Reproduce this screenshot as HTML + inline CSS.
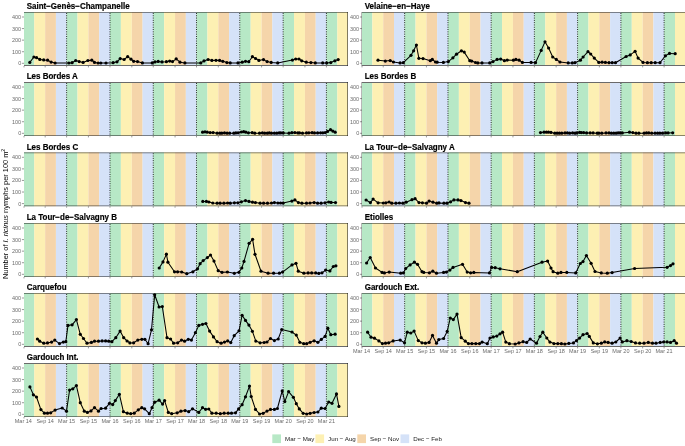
<!DOCTYPE html>
<html><head><meta charset="utf-8"><style>
html,body{margin:0;padding:0;background:#fff;width:685px;height:446px;overflow:hidden}
svg{display:block;will-change:transform}
text{font-family:"Liberation Sans",sans-serif}
.t{font-weight:bold;font-size:8px;fill:#000;stroke:#000;stroke-width:0.18}
.yl{font-size:5.5px;fill:#6b6b6b;text-anchor:end}
.xl{font-size:5.5px;fill:#6b6b6b;text-anchor:middle}
.lg{font-size:6.2px;fill:#1a1a1a}
</style></head><body>
<svg width="685" height="446" viewBox="0 0 685 446">
<g><rect x="24" y="12" width="10.25" height="53" fill="#b7e8c6"/><rect x="34.25" y="12" width="10.9" height="53" fill="#fdf0b3"/><rect x="45.16" y="12" width="10.79" height="53" fill="#f5d5aa"/><rect x="55.94" y="12" width="10.67" height="53" fill="#d5e2f8"/><rect x="66.61" y="12" width="10.9" height="53" fill="#b7e8c6"/><rect x="77.51" y="12" width="10.9" height="53" fill="#fdf0b3"/><rect x="88.42" y="12" width="10.79" height="53" fill="#f5d5aa"/><rect x="99.2" y="12" width="10.79" height="53" fill="#d5e2f8"/><rect x="109.99" y="12" width="10.9" height="53" fill="#b7e8c6"/><rect x="120.89" y="12" width="10.9" height="53" fill="#fdf0b3"/><rect x="131.8" y="12" width="10.79" height="53" fill="#f5d5aa"/><rect x="142.58" y="12" width="10.67" height="53" fill="#d5e2f8"/><rect x="153.25" y="12" width="10.9" height="53" fill="#b7e8c6"/><rect x="164.15" y="12" width="10.9" height="53" fill="#fdf0b3"/><rect x="175.06" y="12" width="10.79" height="53" fill="#f5d5aa"/><rect x="185.84" y="12" width="10.67" height="53" fill="#d5e2f8"/><rect x="196.51" y="12" width="10.9" height="53" fill="#b7e8c6"/><rect x="207.41" y="12" width="10.9" height="53" fill="#fdf0b3"/><rect x="218.32" y="12" width="10.79" height="53" fill="#f5d5aa"/><rect x="229.1" y="12" width="10.67" height="53" fill="#d5e2f8"/><rect x="239.77" y="12" width="10.9" height="53" fill="#b7e8c6"/><rect x="250.67" y="12" width="10.9" height="53" fill="#fdf0b3"/><rect x="261.58" y="12" width="10.79" height="53" fill="#f5d5aa"/><rect x="272.36" y="12" width="10.79" height="53" fill="#d5e2f8"/><rect x="283.15" y="12" width="10.9" height="53" fill="#b7e8c6"/><rect x="294.05" y="12" width="10.9" height="53" fill="#fdf0b3"/><rect x="304.95" y="12" width="10.79" height="53" fill="#f5d5aa"/><rect x="315.74" y="12" width="10.67" height="53" fill="#d5e2f8"/><rect x="326.41" y="12" width="10.9" height="53" fill="#b7e8c6"/><rect x="337.31" y="12" width="10.69" height="53" fill="#fdf0b3"/><line x1="66.61" y1="13" x2="66.61" y2="65" stroke="#000" stroke-width="0.9" stroke-dasharray="0.9 1.4"/><line x1="109.99" y1="13" x2="109.99" y2="65" stroke="#000" stroke-width="0.9" stroke-dasharray="0.9 1.4"/><line x1="153.25" y1="13" x2="153.25" y2="65" stroke="#000" stroke-width="0.9" stroke-dasharray="0.9 1.4"/><line x1="196.51" y1="13" x2="196.51" y2="65" stroke="#000" stroke-width="0.9" stroke-dasharray="0.9 1.4"/><line x1="239.77" y1="13" x2="239.77" y2="65" stroke="#000" stroke-width="0.9" stroke-dasharray="0.9 1.4"/><line x1="283.15" y1="13" x2="283.15" y2="65" stroke="#000" stroke-width="0.9" stroke-dasharray="0.9 1.4"/><line x1="326.41" y1="13" x2="326.41" y2="65" stroke="#000" stroke-width="0.9" stroke-dasharray="0.9 1.4"/><rect x="24" y="12" width="324" height="1" fill="#1a1a1a" fill-opacity="0.5"/><rect x="24" y="65" width="324" height="1" fill="#6a6a6a"/><rect x="347" y="12" width="1" height="54" fill="#1a1a1a" fill-opacity="0.55"/><line x1="21.9" y1="63.3" x2="24" y2="63.3" stroke="#333" stroke-width="0.5"/><text class="yl" x="21.2" y="65.3">0</text><line x1="21.9" y1="51.72" x2="24" y2="51.72" stroke="#333" stroke-width="0.5"/><text class="yl" x="21.2" y="53.72">100</text><line x1="21.9" y1="40.15" x2="24" y2="40.15" stroke="#333" stroke-width="0.5"/><text class="yl" x="21.2" y="42.15">200</text><line x1="21.9" y1="28.57" x2="24" y2="28.57" stroke="#333" stroke-width="0.5"/><text class="yl" x="21.2" y="30.57">300</text><line x1="21.9" y1="17" x2="24" y2="17" stroke="#333" stroke-width="0.5"/><text class="yl" x="21.2" y="19">400</text><line x1="24" y1="66" x2="24" y2="67.4" stroke="#333" stroke-width="0.5"/><line x1="45.16" y1="66" x2="45.16" y2="67.4" stroke="#333" stroke-width="0.5"/><line x1="66.61" y1="66" x2="66.61" y2="67.4" stroke="#333" stroke-width="0.5"/><line x1="88.42" y1="66" x2="88.42" y2="67.4" stroke="#333" stroke-width="0.5"/><line x1="109.99" y1="66" x2="109.99" y2="67.4" stroke="#333" stroke-width="0.5"/><line x1="131.8" y1="66" x2="131.8" y2="67.4" stroke="#333" stroke-width="0.5"/><line x1="153.25" y1="66" x2="153.25" y2="67.4" stroke="#333" stroke-width="0.5"/><line x1="175.06" y1="66" x2="175.06" y2="67.4" stroke="#333" stroke-width="0.5"/><line x1="196.51" y1="66" x2="196.51" y2="67.4" stroke="#333" stroke-width="0.5"/><line x1="218.32" y1="66" x2="218.32" y2="67.4" stroke="#333" stroke-width="0.5"/><line x1="239.77" y1="66" x2="239.77" y2="67.4" stroke="#333" stroke-width="0.5"/><line x1="261.58" y1="66" x2="261.58" y2="67.4" stroke="#333" stroke-width="0.5"/><line x1="283.15" y1="66" x2="283.15" y2="67.4" stroke="#333" stroke-width="0.5"/><line x1="304.95" y1="66" x2="304.95" y2="67.4" stroke="#333" stroke-width="0.5"/><line x1="326.41" y1="66" x2="326.41" y2="67.4" stroke="#333" stroke-width="0.5"/><text class="t" transform="translate(26.7 8.75) scale(1 1.07)">Saint−Genès−Champanelle</text><path d="M29.8 62.4 L33.9 57 L36.6 57.7 L39.8 59.4 L43.7 59.9 L47.6 60.2 L51.1 62.1 L55.1 63 L68.9 63 L72.1 62.7 L75.7 60.5 L79.2 61.6 L83.1 62.4 L87.9 60.5 L91.8 60.2 L94.5 62.4 L98.1 63 L100.8 63 L106 63 L113.1 62.7 L117 61.8 L120.2 58.6 L124.1 59.5 L127.7 56.7 L131 59.2 L133.7 61.3 L137.5 61.6 L142.4 62.9 L152.2 62.9 L155 61.9 L158.2 61.4 L162 61.9 L166.4 61.7 L169.7 61.1 L172.5 61.6 L176.2 58.8 L180 62.2 L184.9 62.9 L200.8 62.9 L204 60.9 L208.1 59.5 L211.9 60.4 L216 60.3 L219.6 60.4 L222.8 61.3 L226.9 62.6 L230.2 62.9 L238 62.9 L242.2 62.2 L245.5 61.3 L248.8 61.7 L252.4 56.7 L255.6 58.5 L258.9 60.4 L263.5 59.6 L267.1 61.6 L271.2 62.4 L277.7 62.9 L292.4 60.1 L295.7 59 L299 59 L301.7 60.8 L306.3 62.2 L310.9 62.6 L315.3 62.9 L322.7 62.9 L326.7 62.9 L330.8 62.6 L334.9 60.8 L338.2 59.6" fill="none" stroke="#000" stroke-width="1.05" stroke-linejoin="round"/><circle cx="29.8" cy="62.4" r="1.6"/><circle cx="33.9" cy="57" r="1.6"/><circle cx="36.6" cy="57.7" r="1.6"/><circle cx="39.8" cy="59.4" r="1.6"/><circle cx="43.7" cy="59.9" r="1.6"/><circle cx="47.6" cy="60.2" r="1.6"/><circle cx="51.1" cy="62.1" r="1.6"/><circle cx="55.1" cy="63" r="1.6"/><circle cx="68.9" cy="63" r="1.6"/><circle cx="72.1" cy="62.7" r="1.6"/><circle cx="75.7" cy="60.5" r="1.6"/><circle cx="79.2" cy="61.6" r="1.6"/><circle cx="83.1" cy="62.4" r="1.6"/><circle cx="87.9" cy="60.5" r="1.6"/><circle cx="91.8" cy="60.2" r="1.6"/><circle cx="94.5" cy="62.4" r="1.6"/><circle cx="98.1" cy="63" r="1.6"/><circle cx="100.8" cy="63" r="1.6"/><circle cx="106" cy="63" r="1.6"/><circle cx="113.1" cy="62.7" r="1.6"/><circle cx="117" cy="61.8" r="1.6"/><circle cx="120.2" cy="58.6" r="1.6"/><circle cx="124.1" cy="59.5" r="1.6"/><circle cx="127.7" cy="56.7" r="1.6"/><circle cx="131" cy="59.2" r="1.6"/><circle cx="133.7" cy="61.3" r="1.6"/><circle cx="137.5" cy="61.6" r="1.6"/><circle cx="142.4" cy="62.9" r="1.6"/><circle cx="152.2" cy="62.9" r="1.6"/><circle cx="155" cy="61.9" r="1.6"/><circle cx="158.2" cy="61.4" r="1.6"/><circle cx="162" cy="61.9" r="1.6"/><circle cx="166.4" cy="61.7" r="1.6"/><circle cx="169.7" cy="61.1" r="1.6"/><circle cx="172.5" cy="61.6" r="1.6"/><circle cx="176.2" cy="58.8" r="1.6"/><circle cx="180" cy="62.2" r="1.6"/><circle cx="184.9" cy="62.9" r="1.6"/><circle cx="200.8" cy="62.9" r="1.6"/><circle cx="204" cy="60.9" r="1.6"/><circle cx="208.1" cy="59.5" r="1.6"/><circle cx="211.9" cy="60.4" r="1.6"/><circle cx="216" cy="60.3" r="1.6"/><circle cx="219.6" cy="60.4" r="1.6"/><circle cx="222.8" cy="61.3" r="1.6"/><circle cx="226.9" cy="62.6" r="1.6"/><circle cx="230.2" cy="62.9" r="1.6"/><circle cx="238" cy="62.9" r="1.6"/><circle cx="242.2" cy="62.2" r="1.6"/><circle cx="245.5" cy="61.3" r="1.6"/><circle cx="248.8" cy="61.7" r="1.6"/><circle cx="252.4" cy="56.7" r="1.6"/><circle cx="255.6" cy="58.5" r="1.6"/><circle cx="258.9" cy="60.4" r="1.6"/><circle cx="263.5" cy="59.6" r="1.6"/><circle cx="267.1" cy="61.6" r="1.6"/><circle cx="271.2" cy="62.4" r="1.6"/><circle cx="277.7" cy="62.9" r="1.6"/><circle cx="292.4" cy="60.1" r="1.6"/><circle cx="295.7" cy="59" r="1.6"/><circle cx="299" cy="59" r="1.6"/><circle cx="301.7" cy="60.8" r="1.6"/><circle cx="306.3" cy="62.2" r="1.6"/><circle cx="310.9" cy="62.6" r="1.6"/><circle cx="315.3" cy="62.9" r="1.6"/><circle cx="322.7" cy="62.9" r="1.6"/><circle cx="326.7" cy="62.9" r="1.6"/><circle cx="330.8" cy="62.6" r="1.6"/><circle cx="334.9" cy="60.8" r="1.6"/><circle cx="338.2" cy="59.6" r="1.6"/></g>
<g><rect x="362" y="12" width="10.34" height="53" fill="#b7e8c6"/><rect x="372.34" y="12" width="10.89" height="53" fill="#fdf0b3"/><rect x="383.23" y="12" width="10.77" height="53" fill="#f5d5aa"/><rect x="394" y="12" width="10.65" height="53" fill="#d5e2f8"/><rect x="404.65" y="12" width="10.89" height="53" fill="#b7e8c6"/><rect x="415.54" y="12" width="10.89" height="53" fill="#fdf0b3"/><rect x="426.43" y="12" width="10.77" height="53" fill="#f5d5aa"/><rect x="437.2" y="12" width="10.77" height="53" fill="#d5e2f8"/><rect x="447.97" y="12" width="10.89" height="53" fill="#b7e8c6"/><rect x="458.86" y="12" width="10.89" height="53" fill="#fdf0b3"/><rect x="469.75" y="12" width="10.77" height="53" fill="#f5d5aa"/><rect x="480.52" y="12" width="10.65" height="53" fill="#d5e2f8"/><rect x="491.17" y="12" width="10.89" height="53" fill="#b7e8c6"/><rect x="502.06" y="12" width="10.89" height="53" fill="#fdf0b3"/><rect x="512.95" y="12" width="10.77" height="53" fill="#f5d5aa"/><rect x="523.72" y="12" width="10.65" height="53" fill="#d5e2f8"/><rect x="534.37" y="12" width="10.89" height="53" fill="#b7e8c6"/><rect x="545.26" y="12" width="10.89" height="53" fill="#fdf0b3"/><rect x="556.15" y="12" width="10.77" height="53" fill="#f5d5aa"/><rect x="566.92" y="12" width="10.65" height="53" fill="#d5e2f8"/><rect x="577.58" y="12" width="10.89" height="53" fill="#b7e8c6"/><rect x="588.46" y="12" width="10.89" height="53" fill="#fdf0b3"/><rect x="599.35" y="12" width="10.77" height="53" fill="#f5d5aa"/><rect x="610.12" y="12" width="10.77" height="53" fill="#d5e2f8"/><rect x="620.9" y="12" width="10.89" height="53" fill="#b7e8c6"/><rect x="631.78" y="12" width="10.89" height="53" fill="#fdf0b3"/><rect x="642.67" y="12" width="10.77" height="53" fill="#f5d5aa"/><rect x="653.44" y="12" width="10.65" height="53" fill="#d5e2f8"/><rect x="664.1" y="12" width="10.89" height="53" fill="#b7e8c6"/><rect x="674.99" y="12" width="10.89" height="53" fill="#fdf0b3"/><rect x="685.87" y="12" width="0.13" height="53" fill="#f5d5aa"/><line x1="404.65" y1="13" x2="404.65" y2="65" stroke="#000" stroke-width="0.9" stroke-dasharray="0.9 1.4"/><line x1="447.97" y1="13" x2="447.97" y2="65" stroke="#000" stroke-width="0.9" stroke-dasharray="0.9 1.4"/><line x1="491.17" y1="13" x2="491.17" y2="65" stroke="#000" stroke-width="0.9" stroke-dasharray="0.9 1.4"/><line x1="534.37" y1="13" x2="534.37" y2="65" stroke="#000" stroke-width="0.9" stroke-dasharray="0.9 1.4"/><line x1="577.58" y1="13" x2="577.58" y2="65" stroke="#000" stroke-width="0.9" stroke-dasharray="0.9 1.4"/><line x1="620.9" y1="13" x2="620.9" y2="65" stroke="#000" stroke-width="0.9" stroke-dasharray="0.9 1.4"/><line x1="664.1" y1="13" x2="664.1" y2="65" stroke="#000" stroke-width="0.9" stroke-dasharray="0.9 1.4"/><rect x="362" y="12" width="324" height="1" fill="#1a1a1a" fill-opacity="0.5"/><rect x="362" y="65" width="324" height="1" fill="#6a6a6a"/><rect x="685" y="12" width="1" height="54" fill="#1a1a1a" fill-opacity="0.55"/><rect x="361.4" y="12" width="0.6" height="54" fill="#888"/><line x1="359.9" y1="63.3" x2="362" y2="63.3" stroke="#333" stroke-width="0.5"/><text class="yl" x="359.2" y="65.3">0</text><line x1="359.9" y1="51.72" x2="362" y2="51.72" stroke="#333" stroke-width="0.5"/><text class="yl" x="359.2" y="53.72">100</text><line x1="359.9" y1="40.15" x2="362" y2="40.15" stroke="#333" stroke-width="0.5"/><text class="yl" x="359.2" y="42.15">200</text><line x1="359.9" y1="28.57" x2="362" y2="28.57" stroke="#333" stroke-width="0.5"/><text class="yl" x="359.2" y="30.57">300</text><line x1="359.9" y1="17" x2="362" y2="17" stroke="#333" stroke-width="0.5"/><text class="yl" x="359.2" y="19">400</text><line x1="362" y1="66" x2="362" y2="67.4" stroke="#333" stroke-width="0.5"/><line x1="383.23" y1="66" x2="383.23" y2="67.4" stroke="#333" stroke-width="0.5"/><line x1="404.65" y1="66" x2="404.65" y2="67.4" stroke="#333" stroke-width="0.5"/><line x1="426.43" y1="66" x2="426.43" y2="67.4" stroke="#333" stroke-width="0.5"/><line x1="447.97" y1="66" x2="447.97" y2="67.4" stroke="#333" stroke-width="0.5"/><line x1="469.75" y1="66" x2="469.75" y2="67.4" stroke="#333" stroke-width="0.5"/><line x1="491.17" y1="66" x2="491.17" y2="67.4" stroke="#333" stroke-width="0.5"/><line x1="512.95" y1="66" x2="512.95" y2="67.4" stroke="#333" stroke-width="0.5"/><line x1="534.37" y1="66" x2="534.37" y2="67.4" stroke="#333" stroke-width="0.5"/><line x1="556.15" y1="66" x2="556.15" y2="67.4" stroke="#333" stroke-width="0.5"/><line x1="577.58" y1="66" x2="577.58" y2="67.4" stroke="#333" stroke-width="0.5"/><line x1="599.35" y1="66" x2="599.35" y2="67.4" stroke="#333" stroke-width="0.5"/><line x1="620.9" y1="66" x2="620.9" y2="67.4" stroke="#333" stroke-width="0.5"/><line x1="642.67" y1="66" x2="642.67" y2="67.4" stroke="#333" stroke-width="0.5"/><line x1="664.1" y1="66" x2="664.1" y2="67.4" stroke="#333" stroke-width="0.5"/><text class="t" transform="translate(364.7 8.75) scale(1 1.07)">Velaine−en−Haye</text><path d="M378 60.2 L385.3 61.1 L390.2 60.6 L393.5 62 L400.1 62.9 L403.3 62.7 L411 55.3 L413.6 50.8 L416.4 45 L418.9 58.3 L423 58.6 L430.3 60.7 L432.3 59.4 L435.5 62 L437.2 62.2 L443.4 62.4 L448.3 61.6 L452.9 57.8 L456.5 54.2 L461.4 50.8 L464.2 52.1 L469.8 60.7 L471.7 61.1 L475.5 62.5 L477.8 62.9 L482 62.9 L489.7 62.9 L493 61.6 L497.1 59.4 L500.7 59.1 L504.4 60.7 L507.2 60.1 L513.4 60.2 L515.9 59.4 L519.1 60.2 L522.4 62.4 L531.1 62.4 L535.5 62.7 L541.2 50.4 L545 41.8 L548.6 48 L552.7 57 L556.3 59.4 L560 62 L568.2 62.9 L572.3 62.9 L575 62.7 L580.4 60.2 L583.1 57 L588 51.7 L590.7 54 L594.3 58.1 L598.8 62.4 L602.1 62.2 L605.4 62.4 L609 62.7 L612.2 62.7 L615.5 62.7 L626.1 56.5 L630.2 54.9 L635.1 51.3 L638.1 58.1 L643 62.4 L647.4 62.7 L651.2 62.7 L655.2 62.7 L660 62.7 L665.4 55.8 L669.5 53.4 L675.2 53.7" fill="none" stroke="#000" stroke-width="1.05" stroke-linejoin="round"/><circle cx="378" cy="60.2" r="1.6"/><circle cx="385.3" cy="61.1" r="1.6"/><circle cx="390.2" cy="60.6" r="1.6"/><circle cx="393.5" cy="62" r="1.6"/><circle cx="400.1" cy="62.9" r="1.6"/><circle cx="403.3" cy="62.7" r="1.6"/><circle cx="411" cy="55.3" r="1.6"/><circle cx="413.6" cy="50.8" r="1.6"/><circle cx="416.4" cy="45" r="1.6"/><circle cx="418.9" cy="58.3" r="1.6"/><circle cx="423" cy="58.6" r="1.6"/><circle cx="430.3" cy="60.7" r="1.6"/><circle cx="432.3" cy="59.4" r="1.6"/><circle cx="435.5" cy="62" r="1.6"/><circle cx="437.2" cy="62.2" r="1.6"/><circle cx="443.4" cy="62.4" r="1.6"/><circle cx="448.3" cy="61.6" r="1.6"/><circle cx="452.9" cy="57.8" r="1.6"/><circle cx="456.5" cy="54.2" r="1.6"/><circle cx="461.4" cy="50.8" r="1.6"/><circle cx="464.2" cy="52.1" r="1.6"/><circle cx="469.8" cy="60.7" r="1.6"/><circle cx="471.7" cy="61.1" r="1.6"/><circle cx="475.5" cy="62.5" r="1.6"/><circle cx="477.8" cy="62.9" r="1.6"/><circle cx="482" cy="62.9" r="1.6"/><circle cx="489.7" cy="62.9" r="1.6"/><circle cx="493" cy="61.6" r="1.6"/><circle cx="497.1" cy="59.4" r="1.6"/><circle cx="500.7" cy="59.1" r="1.6"/><circle cx="504.4" cy="60.7" r="1.6"/><circle cx="507.2" cy="60.1" r="1.6"/><circle cx="513.4" cy="60.2" r="1.6"/><circle cx="515.9" cy="59.4" r="1.6"/><circle cx="519.1" cy="60.2" r="1.6"/><circle cx="522.4" cy="62.4" r="1.6"/><circle cx="531.1" cy="62.4" r="1.6"/><circle cx="535.5" cy="62.7" r="1.6"/><circle cx="541.2" cy="50.4" r="1.6"/><circle cx="545" cy="41.8" r="1.6"/><circle cx="548.6" cy="48" r="1.6"/><circle cx="552.7" cy="57" r="1.6"/><circle cx="556.3" cy="59.4" r="1.6"/><circle cx="560" cy="62" r="1.6"/><circle cx="568.2" cy="62.9" r="1.6"/><circle cx="572.3" cy="62.9" r="1.6"/><circle cx="575" cy="62.7" r="1.6"/><circle cx="580.4" cy="60.2" r="1.6"/><circle cx="583.1" cy="57" r="1.6"/><circle cx="588" cy="51.7" r="1.6"/><circle cx="590.7" cy="54" r="1.6"/><circle cx="594.3" cy="58.1" r="1.6"/><circle cx="598.8" cy="62.4" r="1.6"/><circle cx="602.1" cy="62.2" r="1.6"/><circle cx="605.4" cy="62.4" r="1.6"/><circle cx="609" cy="62.7" r="1.6"/><circle cx="612.2" cy="62.7" r="1.6"/><circle cx="615.5" cy="62.7" r="1.6"/><circle cx="626.1" cy="56.5" r="1.6"/><circle cx="630.2" cy="54.9" r="1.6"/><circle cx="635.1" cy="51.3" r="1.6"/><circle cx="638.1" cy="58.1" r="1.6"/><circle cx="643" cy="62.4" r="1.6"/><circle cx="647.4" cy="62.7" r="1.6"/><circle cx="651.2" cy="62.7" r="1.6"/><circle cx="655.2" cy="62.7" r="1.6"/><circle cx="660" cy="62.7" r="1.6"/><circle cx="665.4" cy="55.8" r="1.6"/><circle cx="669.5" cy="53.4" r="1.6"/><circle cx="675.2" cy="53.7" r="1.6"/></g>
<g><rect x="24" y="83" width="10.25" height="53" fill="#b7e8c6"/><rect x="34.25" y="83" width="10.9" height="53" fill="#fdf0b3"/><rect x="45.16" y="83" width="10.79" height="53" fill="#f5d5aa"/><rect x="55.94" y="83" width="10.67" height="53" fill="#d5e2f8"/><rect x="66.61" y="83" width="10.9" height="53" fill="#b7e8c6"/><rect x="77.51" y="83" width="10.9" height="53" fill="#fdf0b3"/><rect x="88.42" y="83" width="10.79" height="53" fill="#f5d5aa"/><rect x="99.2" y="83" width="10.79" height="53" fill="#d5e2f8"/><rect x="109.99" y="83" width="10.9" height="53" fill="#b7e8c6"/><rect x="120.89" y="83" width="10.9" height="53" fill="#fdf0b3"/><rect x="131.8" y="83" width="10.79" height="53" fill="#f5d5aa"/><rect x="142.58" y="83" width="10.67" height="53" fill="#d5e2f8"/><rect x="153.25" y="83" width="10.9" height="53" fill="#b7e8c6"/><rect x="164.15" y="83" width="10.9" height="53" fill="#fdf0b3"/><rect x="175.06" y="83" width="10.79" height="53" fill="#f5d5aa"/><rect x="185.84" y="83" width="10.67" height="53" fill="#d5e2f8"/><rect x="196.51" y="83" width="10.9" height="53" fill="#b7e8c6"/><rect x="207.41" y="83" width="10.9" height="53" fill="#fdf0b3"/><rect x="218.32" y="83" width="10.79" height="53" fill="#f5d5aa"/><rect x="229.1" y="83" width="10.67" height="53" fill="#d5e2f8"/><rect x="239.77" y="83" width="10.9" height="53" fill="#b7e8c6"/><rect x="250.67" y="83" width="10.9" height="53" fill="#fdf0b3"/><rect x="261.58" y="83" width="10.79" height="53" fill="#f5d5aa"/><rect x="272.36" y="83" width="10.79" height="53" fill="#d5e2f8"/><rect x="283.15" y="83" width="10.9" height="53" fill="#b7e8c6"/><rect x="294.05" y="83" width="10.9" height="53" fill="#fdf0b3"/><rect x="304.95" y="83" width="10.79" height="53" fill="#f5d5aa"/><rect x="315.74" y="83" width="10.67" height="53" fill="#d5e2f8"/><rect x="326.41" y="83" width="10.9" height="53" fill="#b7e8c6"/><rect x="337.31" y="83" width="10.69" height="53" fill="#fdf0b3"/><line x1="66.61" y1="83" x2="66.61" y2="135" stroke="#000" stroke-width="0.9" stroke-dasharray="0.9 1.4"/><line x1="109.99" y1="83" x2="109.99" y2="135" stroke="#000" stroke-width="0.9" stroke-dasharray="0.9 1.4"/><line x1="153.25" y1="83" x2="153.25" y2="135" stroke="#000" stroke-width="0.9" stroke-dasharray="0.9 1.4"/><line x1="196.51" y1="83" x2="196.51" y2="135" stroke="#000" stroke-width="0.9" stroke-dasharray="0.9 1.4"/><line x1="239.77" y1="83" x2="239.77" y2="135" stroke="#000" stroke-width="0.9" stroke-dasharray="0.9 1.4"/><line x1="283.15" y1="83" x2="283.15" y2="135" stroke="#000" stroke-width="0.9" stroke-dasharray="0.9 1.4"/><line x1="326.41" y1="83" x2="326.41" y2="135" stroke="#000" stroke-width="0.9" stroke-dasharray="0.9 1.4"/><rect x="24" y="82" width="324" height="1" fill="#6a6a6a"/><rect x="24" y="135" width="324" height="1" fill="#1a1a1a" fill-opacity="0.5"/><rect x="347" y="82" width="1" height="54" fill="#1a1a1a" fill-opacity="0.55"/><line x1="21.9" y1="133.3" x2="24" y2="133.3" stroke="#333" stroke-width="0.5"/><text class="yl" x="21.2" y="135.3">0</text><line x1="21.9" y1="121.73" x2="24" y2="121.73" stroke="#333" stroke-width="0.5"/><text class="yl" x="21.2" y="123.73">100</text><line x1="21.9" y1="110.15" x2="24" y2="110.15" stroke="#333" stroke-width="0.5"/><text class="yl" x="21.2" y="112.15">200</text><line x1="21.9" y1="98.58" x2="24" y2="98.58" stroke="#333" stroke-width="0.5"/><text class="yl" x="21.2" y="100.58">300</text><line x1="21.9" y1="87" x2="24" y2="87" stroke="#333" stroke-width="0.5"/><text class="yl" x="21.2" y="89">400</text><line x1="24" y1="136" x2="24" y2="137.4" stroke="#333" stroke-width="0.5"/><line x1="45.16" y1="136" x2="45.16" y2="137.4" stroke="#333" stroke-width="0.5"/><line x1="66.61" y1="136" x2="66.61" y2="137.4" stroke="#333" stroke-width="0.5"/><line x1="88.42" y1="136" x2="88.42" y2="137.4" stroke="#333" stroke-width="0.5"/><line x1="109.99" y1="136" x2="109.99" y2="137.4" stroke="#333" stroke-width="0.5"/><line x1="131.8" y1="136" x2="131.8" y2="137.4" stroke="#333" stroke-width="0.5"/><line x1="153.25" y1="136" x2="153.25" y2="137.4" stroke="#333" stroke-width="0.5"/><line x1="175.06" y1="136" x2="175.06" y2="137.4" stroke="#333" stroke-width="0.5"/><line x1="196.51" y1="136" x2="196.51" y2="137.4" stroke="#333" stroke-width="0.5"/><line x1="218.32" y1="136" x2="218.32" y2="137.4" stroke="#333" stroke-width="0.5"/><line x1="239.77" y1="136" x2="239.77" y2="137.4" stroke="#333" stroke-width="0.5"/><line x1="261.58" y1="136" x2="261.58" y2="137.4" stroke="#333" stroke-width="0.5"/><line x1="283.15" y1="136" x2="283.15" y2="137.4" stroke="#333" stroke-width="0.5"/><line x1="304.95" y1="136" x2="304.95" y2="137.4" stroke="#333" stroke-width="0.5"/><line x1="326.41" y1="136" x2="326.41" y2="137.4" stroke="#333" stroke-width="0.5"/><text class="t" transform="translate(26.7 78.75) scale(1 1.07)">Les Bordes A</text><path d="M202.6 132.2 L205 131.8 L207.3 132.2 L210.1 132.6 L213.1 132.6 L217.1 133.2 L219.8 133.2 L221.8 133.2 L224.5 132.9 L227.1 133.2 L229.7 133.2 L233.8 133.2 L235.9 132.9 L238.1 132.8 L241.4 132 L243.7 131.7 L245.8 132.2 L248.4 132.8 L252.2 132.7 L254.8 133.2 L259.5 133.2 L262.4 132.9 L264.7 133.2 L267.3 133.2 L269.3 132.9 L271.5 133.2 L274.4 133.2 L276.8 133.2 L279.1 132.9 L280.8 132.9 L283.2 132.9 L289 133.2 L291.9 132.7 L294.9 132.6 L297.8 132.9 L299.5 132.9 L302.5 133.2 L306.5 132.9 L308.9 132.8 L312.1 132.7 L314.5 132.9 L317.6 132.9 L320.6 132.8 L322.9 132.8 L325.2 132.6 L327.6 131.4 L330.5 129.7 L332.8 131.1 L335.2 132.2" fill="none" stroke="#000" stroke-width="1.05" stroke-linejoin="round"/><circle cx="202.6" cy="132.2" r="1.6"/><circle cx="205" cy="131.8" r="1.6"/><circle cx="207.3" cy="132.2" r="1.6"/><circle cx="210.1" cy="132.6" r="1.6"/><circle cx="213.1" cy="132.6" r="1.6"/><circle cx="217.1" cy="133.2" r="1.6"/><circle cx="219.8" cy="133.2" r="1.6"/><circle cx="221.8" cy="133.2" r="1.6"/><circle cx="224.5" cy="132.9" r="1.6"/><circle cx="227.1" cy="133.2" r="1.6"/><circle cx="229.7" cy="133.2" r="1.6"/><circle cx="233.8" cy="133.2" r="1.6"/><circle cx="235.9" cy="132.9" r="1.6"/><circle cx="238.1" cy="132.8" r="1.6"/><circle cx="241.4" cy="132" r="1.6"/><circle cx="243.7" cy="131.7" r="1.6"/><circle cx="245.8" cy="132.2" r="1.6"/><circle cx="248.4" cy="132.8" r="1.6"/><circle cx="252.2" cy="132.7" r="1.6"/><circle cx="254.8" cy="133.2" r="1.6"/><circle cx="259.5" cy="133.2" r="1.6"/><circle cx="262.4" cy="132.9" r="1.6"/><circle cx="264.7" cy="133.2" r="1.6"/><circle cx="267.3" cy="133.2" r="1.6"/><circle cx="269.3" cy="132.9" r="1.6"/><circle cx="271.5" cy="133.2" r="1.6"/><circle cx="274.4" cy="133.2" r="1.6"/><circle cx="276.8" cy="133.2" r="1.6"/><circle cx="279.1" cy="132.9" r="1.6"/><circle cx="280.8" cy="132.9" r="1.6"/><circle cx="283.2" cy="132.9" r="1.6"/><circle cx="289" cy="133.2" r="1.6"/><circle cx="291.9" cy="132.7" r="1.6"/><circle cx="294.9" cy="132.6" r="1.6"/><circle cx="297.8" cy="132.9" r="1.6"/><circle cx="299.5" cy="132.9" r="1.6"/><circle cx="302.5" cy="133.2" r="1.6"/><circle cx="306.5" cy="132.9" r="1.6"/><circle cx="308.9" cy="132.8" r="1.6"/><circle cx="312.1" cy="132.7" r="1.6"/><circle cx="314.5" cy="132.9" r="1.6"/><circle cx="317.6" cy="132.9" r="1.6"/><circle cx="320.6" cy="132.8" r="1.6"/><circle cx="322.9" cy="132.8" r="1.6"/><circle cx="325.2" cy="132.6" r="1.6"/><circle cx="327.6" cy="131.4" r="1.6"/><circle cx="330.5" cy="129.7" r="1.6"/><circle cx="332.8" cy="131.1" r="1.6"/><circle cx="335.2" cy="132.2" r="1.6"/></g>
<g><rect x="362" y="83" width="10.34" height="53" fill="#b7e8c6"/><rect x="372.34" y="83" width="10.89" height="53" fill="#fdf0b3"/><rect x="383.23" y="83" width="10.77" height="53" fill="#f5d5aa"/><rect x="394" y="83" width="10.65" height="53" fill="#d5e2f8"/><rect x="404.65" y="83" width="10.89" height="53" fill="#b7e8c6"/><rect x="415.54" y="83" width="10.89" height="53" fill="#fdf0b3"/><rect x="426.43" y="83" width="10.77" height="53" fill="#f5d5aa"/><rect x="437.2" y="83" width="10.77" height="53" fill="#d5e2f8"/><rect x="447.97" y="83" width="10.89" height="53" fill="#b7e8c6"/><rect x="458.86" y="83" width="10.89" height="53" fill="#fdf0b3"/><rect x="469.75" y="83" width="10.77" height="53" fill="#f5d5aa"/><rect x="480.52" y="83" width="10.65" height="53" fill="#d5e2f8"/><rect x="491.17" y="83" width="10.89" height="53" fill="#b7e8c6"/><rect x="502.06" y="83" width="10.89" height="53" fill="#fdf0b3"/><rect x="512.95" y="83" width="10.77" height="53" fill="#f5d5aa"/><rect x="523.72" y="83" width="10.65" height="53" fill="#d5e2f8"/><rect x="534.37" y="83" width="10.89" height="53" fill="#b7e8c6"/><rect x="545.26" y="83" width="10.89" height="53" fill="#fdf0b3"/><rect x="556.15" y="83" width="10.77" height="53" fill="#f5d5aa"/><rect x="566.92" y="83" width="10.65" height="53" fill="#d5e2f8"/><rect x="577.58" y="83" width="10.89" height="53" fill="#b7e8c6"/><rect x="588.46" y="83" width="10.89" height="53" fill="#fdf0b3"/><rect x="599.35" y="83" width="10.77" height="53" fill="#f5d5aa"/><rect x="610.12" y="83" width="10.77" height="53" fill="#d5e2f8"/><rect x="620.9" y="83" width="10.89" height="53" fill="#b7e8c6"/><rect x="631.78" y="83" width="10.89" height="53" fill="#fdf0b3"/><rect x="642.67" y="83" width="10.77" height="53" fill="#f5d5aa"/><rect x="653.44" y="83" width="10.65" height="53" fill="#d5e2f8"/><rect x="664.1" y="83" width="10.89" height="53" fill="#b7e8c6"/><rect x="674.99" y="83" width="10.89" height="53" fill="#fdf0b3"/><rect x="685.87" y="83" width="0.13" height="53" fill="#f5d5aa"/><line x1="404.65" y1="83" x2="404.65" y2="135" stroke="#000" stroke-width="0.9" stroke-dasharray="0.9 1.4"/><line x1="447.97" y1="83" x2="447.97" y2="135" stroke="#000" stroke-width="0.9" stroke-dasharray="0.9 1.4"/><line x1="491.17" y1="83" x2="491.17" y2="135" stroke="#000" stroke-width="0.9" stroke-dasharray="0.9 1.4"/><line x1="534.37" y1="83" x2="534.37" y2="135" stroke="#000" stroke-width="0.9" stroke-dasharray="0.9 1.4"/><line x1="577.58" y1="83" x2="577.58" y2="135" stroke="#000" stroke-width="0.9" stroke-dasharray="0.9 1.4"/><line x1="620.9" y1="83" x2="620.9" y2="135" stroke="#000" stroke-width="0.9" stroke-dasharray="0.9 1.4"/><line x1="664.1" y1="83" x2="664.1" y2="135" stroke="#000" stroke-width="0.9" stroke-dasharray="0.9 1.4"/><rect x="362" y="82" width="324" height="1" fill="#6a6a6a"/><rect x="362" y="135" width="324" height="1" fill="#1a1a1a" fill-opacity="0.5"/><rect x="685" y="82" width="1" height="54" fill="#1a1a1a" fill-opacity="0.55"/><rect x="361.4" y="82" width="0.6" height="54" fill="#888"/><line x1="359.9" y1="133.3" x2="362" y2="133.3" stroke="#333" stroke-width="0.5"/><text class="yl" x="359.2" y="135.3">0</text><line x1="359.9" y1="121.73" x2="362" y2="121.73" stroke="#333" stroke-width="0.5"/><text class="yl" x="359.2" y="123.73">100</text><line x1="359.9" y1="110.15" x2="362" y2="110.15" stroke="#333" stroke-width="0.5"/><text class="yl" x="359.2" y="112.15">200</text><line x1="359.9" y1="98.58" x2="362" y2="98.58" stroke="#333" stroke-width="0.5"/><text class="yl" x="359.2" y="100.58">300</text><line x1="359.9" y1="87" x2="362" y2="87" stroke="#333" stroke-width="0.5"/><text class="yl" x="359.2" y="89">400</text><line x1="362" y1="136" x2="362" y2="137.4" stroke="#333" stroke-width="0.5"/><line x1="383.23" y1="136" x2="383.23" y2="137.4" stroke="#333" stroke-width="0.5"/><line x1="404.65" y1="136" x2="404.65" y2="137.4" stroke="#333" stroke-width="0.5"/><line x1="426.43" y1="136" x2="426.43" y2="137.4" stroke="#333" stroke-width="0.5"/><line x1="447.97" y1="136" x2="447.97" y2="137.4" stroke="#333" stroke-width="0.5"/><line x1="469.75" y1="136" x2="469.75" y2="137.4" stroke="#333" stroke-width="0.5"/><line x1="491.17" y1="136" x2="491.17" y2="137.4" stroke="#333" stroke-width="0.5"/><line x1="512.95" y1="136" x2="512.95" y2="137.4" stroke="#333" stroke-width="0.5"/><line x1="534.37" y1="136" x2="534.37" y2="137.4" stroke="#333" stroke-width="0.5"/><line x1="556.15" y1="136" x2="556.15" y2="137.4" stroke="#333" stroke-width="0.5"/><line x1="577.58" y1="136" x2="577.58" y2="137.4" stroke="#333" stroke-width="0.5"/><line x1="599.35" y1="136" x2="599.35" y2="137.4" stroke="#333" stroke-width="0.5"/><line x1="620.9" y1="136" x2="620.9" y2="137.4" stroke="#333" stroke-width="0.5"/><line x1="642.67" y1="136" x2="642.67" y2="137.4" stroke="#333" stroke-width="0.5"/><line x1="664.1" y1="136" x2="664.1" y2="137.4" stroke="#333" stroke-width="0.5"/><text class="t" transform="translate(364.7 78.75) scale(1 1.07)">Les Bordes B</text><path d="M540.5 132.6 L544 132.2 L546.4 132.2 L548.5 132.2 L551 132.4 L554.8 133.2 L557.1 133.2 L559.4 133.2 L561.8 133.2 L565 132.9 L567.4 132.9 L569.7 133.2 L572.6 132.9 L575 133.2 L576.7 132.9 L579.6 132.4 L581.4 132.6 L583.7 132.6 L586.6 132.9 L590.1 132.9 L593.1 132.9 L597.2 133.2 L598.9 133.2 L601.8 133.2 L606 132.9 L609 132.9 L611.4 133.2 L613.8 133.2 L616.1 133.2 L618.1 132.9 L620 132.9 L622.3 132.9 L629.5 132.2 L632.8 132.6 L636 133.2 L638.9 133.2 L644.1 133.2 L646.5 132.9 L648.8 132.9 L651.7 133.2 L655 133.2 L657.6 133.2 L659.9 133.2 L662.5 133.2 L665.7 132.9 L668.1 132.9 L672.7 132.8" fill="none" stroke="#000" stroke-width="1.05" stroke-linejoin="round"/><circle cx="540.5" cy="132.6" r="1.6"/><circle cx="544" cy="132.2" r="1.6"/><circle cx="546.4" cy="132.2" r="1.6"/><circle cx="548.5" cy="132.2" r="1.6"/><circle cx="551" cy="132.4" r="1.6"/><circle cx="554.8" cy="133.2" r="1.6"/><circle cx="557.1" cy="133.2" r="1.6"/><circle cx="559.4" cy="133.2" r="1.6"/><circle cx="561.8" cy="133.2" r="1.6"/><circle cx="565" cy="132.9" r="1.6"/><circle cx="567.4" cy="132.9" r="1.6"/><circle cx="569.7" cy="133.2" r="1.6"/><circle cx="572.6" cy="132.9" r="1.6"/><circle cx="575" cy="133.2" r="1.6"/><circle cx="576.7" cy="132.9" r="1.6"/><circle cx="579.6" cy="132.4" r="1.6"/><circle cx="581.4" cy="132.6" r="1.6"/><circle cx="583.7" cy="132.6" r="1.6"/><circle cx="586.6" cy="132.9" r="1.6"/><circle cx="590.1" cy="132.9" r="1.6"/><circle cx="593.1" cy="132.9" r="1.6"/><circle cx="597.2" cy="133.2" r="1.6"/><circle cx="598.9" cy="133.2" r="1.6"/><circle cx="601.8" cy="133.2" r="1.6"/><circle cx="606" cy="132.9" r="1.6"/><circle cx="609" cy="132.9" r="1.6"/><circle cx="611.4" cy="133.2" r="1.6"/><circle cx="613.8" cy="133.2" r="1.6"/><circle cx="616.1" cy="133.2" r="1.6"/><circle cx="618.1" cy="132.9" r="1.6"/><circle cx="620" cy="132.9" r="1.6"/><circle cx="622.3" cy="132.9" r="1.6"/><circle cx="629.5" cy="132.2" r="1.6"/><circle cx="632.8" cy="132.6" r="1.6"/><circle cx="636" cy="133.2" r="1.6"/><circle cx="638.9" cy="133.2" r="1.6"/><circle cx="644.1" cy="133.2" r="1.6"/><circle cx="646.5" cy="132.9" r="1.6"/><circle cx="648.8" cy="132.9" r="1.6"/><circle cx="651.7" cy="133.2" r="1.6"/><circle cx="655" cy="133.2" r="1.6"/><circle cx="657.6" cy="133.2" r="1.6"/><circle cx="659.9" cy="133.2" r="1.6"/><circle cx="662.5" cy="133.2" r="1.6"/><circle cx="665.7" cy="132.9" r="1.6"/><circle cx="668.1" cy="132.9" r="1.6"/><circle cx="672.7" cy="132.8" r="1.6"/></g>
<g><rect x="24" y="152.3" width="10.25" height="54" fill="#b7e8c6"/><rect x="34.25" y="152.3" width="10.9" height="54" fill="#fdf0b3"/><rect x="45.16" y="152.3" width="10.79" height="54" fill="#f5d5aa"/><rect x="55.94" y="152.3" width="10.67" height="54" fill="#d5e2f8"/><rect x="66.61" y="152.3" width="10.9" height="54" fill="#b7e8c6"/><rect x="77.51" y="152.3" width="10.9" height="54" fill="#fdf0b3"/><rect x="88.42" y="152.3" width="10.79" height="54" fill="#f5d5aa"/><rect x="99.2" y="152.3" width="10.79" height="54" fill="#d5e2f8"/><rect x="109.99" y="152.3" width="10.9" height="54" fill="#b7e8c6"/><rect x="120.89" y="152.3" width="10.9" height="54" fill="#fdf0b3"/><rect x="131.8" y="152.3" width="10.79" height="54" fill="#f5d5aa"/><rect x="142.58" y="152.3" width="10.67" height="54" fill="#d5e2f8"/><rect x="153.25" y="152.3" width="10.9" height="54" fill="#b7e8c6"/><rect x="164.15" y="152.3" width="10.9" height="54" fill="#fdf0b3"/><rect x="175.06" y="152.3" width="10.79" height="54" fill="#f5d5aa"/><rect x="185.84" y="152.3" width="10.67" height="54" fill="#d5e2f8"/><rect x="196.51" y="152.3" width="10.9" height="54" fill="#b7e8c6"/><rect x="207.41" y="152.3" width="10.9" height="54" fill="#fdf0b3"/><rect x="218.32" y="152.3" width="10.79" height="54" fill="#f5d5aa"/><rect x="229.1" y="152.3" width="10.67" height="54" fill="#d5e2f8"/><rect x="239.77" y="152.3" width="10.9" height="54" fill="#b7e8c6"/><rect x="250.67" y="152.3" width="10.9" height="54" fill="#fdf0b3"/><rect x="261.58" y="152.3" width="10.79" height="54" fill="#f5d5aa"/><rect x="272.36" y="152.3" width="10.79" height="54" fill="#d5e2f8"/><rect x="283.15" y="152.3" width="10.9" height="54" fill="#b7e8c6"/><rect x="294.05" y="152.3" width="10.9" height="54" fill="#fdf0b3"/><rect x="304.95" y="152.3" width="10.79" height="54" fill="#f5d5aa"/><rect x="315.74" y="152.3" width="10.67" height="54" fill="#d5e2f8"/><rect x="326.41" y="152.3" width="10.9" height="54" fill="#b7e8c6"/><rect x="337.31" y="152.3" width="10.69" height="54" fill="#fdf0b3"/><line x1="66.61" y1="153.3" x2="66.61" y2="205.3" stroke="#000" stroke-width="0.9" stroke-dasharray="0.9 1.4"/><line x1="109.99" y1="153.3" x2="109.99" y2="205.3" stroke="#000" stroke-width="0.9" stroke-dasharray="0.9 1.4"/><line x1="153.25" y1="153.3" x2="153.25" y2="205.3" stroke="#000" stroke-width="0.9" stroke-dasharray="0.9 1.4"/><line x1="196.51" y1="153.3" x2="196.51" y2="205.3" stroke="#000" stroke-width="0.9" stroke-dasharray="0.9 1.4"/><line x1="239.77" y1="153.3" x2="239.77" y2="205.3" stroke="#000" stroke-width="0.9" stroke-dasharray="0.9 1.4"/><line x1="283.15" y1="153.3" x2="283.15" y2="205.3" stroke="#000" stroke-width="0.9" stroke-dasharray="0.9 1.4"/><line x1="326.41" y1="153.3" x2="326.41" y2="205.3" stroke="#000" stroke-width="0.9" stroke-dasharray="0.9 1.4"/><rect x="24" y="152.3" width="324" height="1" fill="#1a1a1a" fill-opacity="0.5"/><rect x="24" y="205.3" width="324" height="1" fill="#1a1a1a" fill-opacity="0.5"/><rect x="347" y="152.3" width="1" height="54" fill="#1a1a1a" fill-opacity="0.55"/><line x1="21.9" y1="203.6" x2="24" y2="203.6" stroke="#333" stroke-width="0.5"/><text class="yl" x="21.2" y="205.6">0</text><line x1="21.9" y1="192.03" x2="24" y2="192.03" stroke="#333" stroke-width="0.5"/><text class="yl" x="21.2" y="194.03">100</text><line x1="21.9" y1="180.45" x2="24" y2="180.45" stroke="#333" stroke-width="0.5"/><text class="yl" x="21.2" y="182.45">200</text><line x1="21.9" y1="168.88" x2="24" y2="168.88" stroke="#333" stroke-width="0.5"/><text class="yl" x="21.2" y="170.88">300</text><line x1="21.9" y1="157.3" x2="24" y2="157.3" stroke="#333" stroke-width="0.5"/><text class="yl" x="21.2" y="159.3">400</text><line x1="24" y1="206.3" x2="24" y2="207.7" stroke="#333" stroke-width="0.5"/><line x1="45.16" y1="206.3" x2="45.16" y2="207.7" stroke="#333" stroke-width="0.5"/><line x1="66.61" y1="206.3" x2="66.61" y2="207.7" stroke="#333" stroke-width="0.5"/><line x1="88.42" y1="206.3" x2="88.42" y2="207.7" stroke="#333" stroke-width="0.5"/><line x1="109.99" y1="206.3" x2="109.99" y2="207.7" stroke="#333" stroke-width="0.5"/><line x1="131.8" y1="206.3" x2="131.8" y2="207.7" stroke="#333" stroke-width="0.5"/><line x1="153.25" y1="206.3" x2="153.25" y2="207.7" stroke="#333" stroke-width="0.5"/><line x1="175.06" y1="206.3" x2="175.06" y2="207.7" stroke="#333" stroke-width="0.5"/><line x1="196.51" y1="206.3" x2="196.51" y2="207.7" stroke="#333" stroke-width="0.5"/><line x1="218.32" y1="206.3" x2="218.32" y2="207.7" stroke="#333" stroke-width="0.5"/><line x1="239.77" y1="206.3" x2="239.77" y2="207.7" stroke="#333" stroke-width="0.5"/><line x1="261.58" y1="206.3" x2="261.58" y2="207.7" stroke="#333" stroke-width="0.5"/><line x1="283.15" y1="206.3" x2="283.15" y2="207.7" stroke="#333" stroke-width="0.5"/><line x1="304.95" y1="206.3" x2="304.95" y2="207.7" stroke="#333" stroke-width="0.5"/><line x1="326.41" y1="206.3" x2="326.41" y2="207.7" stroke="#333" stroke-width="0.5"/><text class="t" transform="translate(26.7 149.6) scale(1 1.07)">Les Bordes C</text><path d="M202.8 201.4 L206.4 201.4 L208.9 202 L212.8 203 L217.1 203.2 L220.1 203.2 L223.9 203.2 L227.6 203 L230.3 203.2 L234.4 202.8 L237.9 202.8 L241.4 201.8 L245.5 200.6 L249 201.4 L252.5 202.2 L255.4 202.6 L260.1 203.2 L263.6 203.2 L267.5 203.2 L271.5 203 L274.4 202.6 L277.9 203 L280.6 203 L283.2 203 L291.9 201.1 L294.9 199.9 L298.4 202.6 L301.9 203.2 L306.5 203.2 L310 203 L314.1 202.6 L317.6 203.2 L321.1 203.2 L325 202.8 L328.7 202 L331.1 202.4 L335.5 202.6" fill="none" stroke="#000" stroke-width="1.05" stroke-linejoin="round"/><circle cx="202.8" cy="201.4" r="1.6"/><circle cx="206.4" cy="201.4" r="1.6"/><circle cx="208.9" cy="202" r="1.6"/><circle cx="212.8" cy="203" r="1.6"/><circle cx="217.1" cy="203.2" r="1.6"/><circle cx="220.1" cy="203.2" r="1.6"/><circle cx="223.9" cy="203.2" r="1.6"/><circle cx="227.6" cy="203" r="1.6"/><circle cx="230.3" cy="203.2" r="1.6"/><circle cx="234.4" cy="202.8" r="1.6"/><circle cx="237.9" cy="202.8" r="1.6"/><circle cx="241.4" cy="201.8" r="1.6"/><circle cx="245.5" cy="200.6" r="1.6"/><circle cx="249" cy="201.4" r="1.6"/><circle cx="252.5" cy="202.2" r="1.6"/><circle cx="255.4" cy="202.6" r="1.6"/><circle cx="260.1" cy="203.2" r="1.6"/><circle cx="263.6" cy="203.2" r="1.6"/><circle cx="267.5" cy="203.2" r="1.6"/><circle cx="271.5" cy="203" r="1.6"/><circle cx="274.4" cy="202.6" r="1.6"/><circle cx="277.9" cy="203" r="1.6"/><circle cx="280.6" cy="203" r="1.6"/><circle cx="283.2" cy="203" r="1.6"/><circle cx="291.9" cy="201.1" r="1.6"/><circle cx="294.9" cy="199.9" r="1.6"/><circle cx="298.4" cy="202.6" r="1.6"/><circle cx="301.9" cy="203.2" r="1.6"/><circle cx="306.5" cy="203.2" r="1.6"/><circle cx="310" cy="203" r="1.6"/><circle cx="314.1" cy="202.6" r="1.6"/><circle cx="317.6" cy="203.2" r="1.6"/><circle cx="321.1" cy="203.2" r="1.6"/><circle cx="325" cy="202.8" r="1.6"/><circle cx="328.7" cy="202" r="1.6"/><circle cx="331.1" cy="202.4" r="1.6"/><circle cx="335.5" cy="202.6" r="1.6"/></g>
<g><rect x="362" y="152.3" width="10.34" height="54" fill="#b7e8c6"/><rect x="372.34" y="152.3" width="10.89" height="54" fill="#fdf0b3"/><rect x="383.23" y="152.3" width="10.77" height="54" fill="#f5d5aa"/><rect x="394" y="152.3" width="10.65" height="54" fill="#d5e2f8"/><rect x="404.65" y="152.3" width="10.89" height="54" fill="#b7e8c6"/><rect x="415.54" y="152.3" width="10.89" height="54" fill="#fdf0b3"/><rect x="426.43" y="152.3" width="10.77" height="54" fill="#f5d5aa"/><rect x="437.2" y="152.3" width="10.77" height="54" fill="#d5e2f8"/><rect x="447.97" y="152.3" width="10.89" height="54" fill="#b7e8c6"/><rect x="458.86" y="152.3" width="10.89" height="54" fill="#fdf0b3"/><rect x="469.75" y="152.3" width="10.77" height="54" fill="#f5d5aa"/><rect x="480.52" y="152.3" width="10.65" height="54" fill="#d5e2f8"/><rect x="491.17" y="152.3" width="10.89" height="54" fill="#b7e8c6"/><rect x="502.06" y="152.3" width="10.89" height="54" fill="#fdf0b3"/><rect x="512.95" y="152.3" width="10.77" height="54" fill="#f5d5aa"/><rect x="523.72" y="152.3" width="10.65" height="54" fill="#d5e2f8"/><rect x="534.37" y="152.3" width="10.89" height="54" fill="#b7e8c6"/><rect x="545.26" y="152.3" width="10.89" height="54" fill="#fdf0b3"/><rect x="556.15" y="152.3" width="10.77" height="54" fill="#f5d5aa"/><rect x="566.92" y="152.3" width="10.65" height="54" fill="#d5e2f8"/><rect x="577.58" y="152.3" width="10.89" height="54" fill="#b7e8c6"/><rect x="588.46" y="152.3" width="10.89" height="54" fill="#fdf0b3"/><rect x="599.35" y="152.3" width="10.77" height="54" fill="#f5d5aa"/><rect x="610.12" y="152.3" width="10.77" height="54" fill="#d5e2f8"/><rect x="620.9" y="152.3" width="10.89" height="54" fill="#b7e8c6"/><rect x="631.78" y="152.3" width="10.89" height="54" fill="#fdf0b3"/><rect x="642.67" y="152.3" width="10.77" height="54" fill="#f5d5aa"/><rect x="653.44" y="152.3" width="10.65" height="54" fill="#d5e2f8"/><rect x="664.1" y="152.3" width="10.89" height="54" fill="#b7e8c6"/><rect x="674.99" y="152.3" width="10.89" height="54" fill="#fdf0b3"/><rect x="685.87" y="152.3" width="0.13" height="54" fill="#f5d5aa"/><line x1="404.65" y1="153.3" x2="404.65" y2="205.3" stroke="#000" stroke-width="0.9" stroke-dasharray="0.9 1.4"/><line x1="447.97" y1="153.3" x2="447.97" y2="205.3" stroke="#000" stroke-width="0.9" stroke-dasharray="0.9 1.4"/><line x1="491.17" y1="153.3" x2="491.17" y2="205.3" stroke="#000" stroke-width="0.9" stroke-dasharray="0.9 1.4"/><line x1="534.37" y1="153.3" x2="534.37" y2="205.3" stroke="#000" stroke-width="0.9" stroke-dasharray="0.9 1.4"/><line x1="577.58" y1="153.3" x2="577.58" y2="205.3" stroke="#000" stroke-width="0.9" stroke-dasharray="0.9 1.4"/><line x1="620.9" y1="153.3" x2="620.9" y2="205.3" stroke="#000" stroke-width="0.9" stroke-dasharray="0.9 1.4"/><line x1="664.1" y1="153.3" x2="664.1" y2="205.3" stroke="#000" stroke-width="0.9" stroke-dasharray="0.9 1.4"/><rect x="362" y="152.3" width="324" height="1" fill="#1a1a1a" fill-opacity="0.5"/><rect x="362" y="205.3" width="324" height="1" fill="#1a1a1a" fill-opacity="0.5"/><rect x="685" y="152.3" width="1" height="54" fill="#1a1a1a" fill-opacity="0.55"/><rect x="361.4" y="152.3" width="0.6" height="54" fill="#888"/><line x1="359.9" y1="203.6" x2="362" y2="203.6" stroke="#333" stroke-width="0.5"/><text class="yl" x="359.2" y="205.6">0</text><line x1="359.9" y1="192.03" x2="362" y2="192.03" stroke="#333" stroke-width="0.5"/><text class="yl" x="359.2" y="194.03">100</text><line x1="359.9" y1="180.45" x2="362" y2="180.45" stroke="#333" stroke-width="0.5"/><text class="yl" x="359.2" y="182.45">200</text><line x1="359.9" y1="168.88" x2="362" y2="168.88" stroke="#333" stroke-width="0.5"/><text class="yl" x="359.2" y="170.88">300</text><line x1="359.9" y1="157.3" x2="362" y2="157.3" stroke="#333" stroke-width="0.5"/><text class="yl" x="359.2" y="159.3">400</text><line x1="362" y1="206.3" x2="362" y2="207.7" stroke="#333" stroke-width="0.5"/><line x1="383.23" y1="206.3" x2="383.23" y2="207.7" stroke="#333" stroke-width="0.5"/><line x1="404.65" y1="206.3" x2="404.65" y2="207.7" stroke="#333" stroke-width="0.5"/><line x1="426.43" y1="206.3" x2="426.43" y2="207.7" stroke="#333" stroke-width="0.5"/><line x1="447.97" y1="206.3" x2="447.97" y2="207.7" stroke="#333" stroke-width="0.5"/><line x1="469.75" y1="206.3" x2="469.75" y2="207.7" stroke="#333" stroke-width="0.5"/><line x1="491.17" y1="206.3" x2="491.17" y2="207.7" stroke="#333" stroke-width="0.5"/><line x1="512.95" y1="206.3" x2="512.95" y2="207.7" stroke="#333" stroke-width="0.5"/><line x1="534.37" y1="206.3" x2="534.37" y2="207.7" stroke="#333" stroke-width="0.5"/><line x1="556.15" y1="206.3" x2="556.15" y2="207.7" stroke="#333" stroke-width="0.5"/><line x1="577.58" y1="206.3" x2="577.58" y2="207.7" stroke="#333" stroke-width="0.5"/><line x1="599.35" y1="206.3" x2="599.35" y2="207.7" stroke="#333" stroke-width="0.5"/><line x1="620.9" y1="206.3" x2="620.9" y2="207.7" stroke="#333" stroke-width="0.5"/><line x1="642.67" y1="206.3" x2="642.67" y2="207.7" stroke="#333" stroke-width="0.5"/><line x1="664.1" y1="206.3" x2="664.1" y2="207.7" stroke="#333" stroke-width="0.5"/><text class="t" transform="translate(364.7 149.6) scale(1 1.07)">La Tour−de−Salvagny A</text><path d="M366.1 200 L370.4 202.6 L373.1 199.1 L378.1 202.8 L383.3 203 L385.9 202.8 L389.1 202 L391.8 203.2 L395.9 203.2 L399.4 203 L402.9 203.2 L406.1 202.2 L412 199.7 L415.1 198.7 L419 202.6 L422.4 202.8 L426.5 203.2 L429.1 201.1 L433 202.2 L436.8 203.2 L439 202.9 L443.9 203.2 L446.9 203.2 L450.6 201.8 L453.9 199.9 L458 199.9 L460.9 200.6 L465.5 202.6 L469 203.2" fill="none" stroke="#000" stroke-width="1.05" stroke-linejoin="round"/><circle cx="366.1" cy="200" r="1.6"/><circle cx="370.4" cy="202.6" r="1.6"/><circle cx="373.1" cy="199.1" r="1.6"/><circle cx="378.1" cy="202.8" r="1.6"/><circle cx="383.3" cy="203" r="1.6"/><circle cx="385.9" cy="202.8" r="1.6"/><circle cx="389.1" cy="202" r="1.6"/><circle cx="391.8" cy="203.2" r="1.6"/><circle cx="395.9" cy="203.2" r="1.6"/><circle cx="399.4" cy="203" r="1.6"/><circle cx="402.9" cy="203.2" r="1.6"/><circle cx="406.1" cy="202.2" r="1.6"/><circle cx="412" cy="199.7" r="1.6"/><circle cx="415.1" cy="198.7" r="1.6"/><circle cx="419" cy="202.6" r="1.6"/><circle cx="422.4" cy="202.8" r="1.6"/><circle cx="426.5" cy="203.2" r="1.6"/><circle cx="429.1" cy="201.1" r="1.6"/><circle cx="433" cy="202.2" r="1.6"/><circle cx="436.8" cy="203.2" r="1.6"/><circle cx="439" cy="202.9" r="1.6"/><circle cx="443.9" cy="203.2" r="1.6"/><circle cx="446.9" cy="203.2" r="1.6"/><circle cx="450.6" cy="201.8" r="1.6"/><circle cx="453.9" cy="199.9" r="1.6"/><circle cx="458" cy="199.9" r="1.6"/><circle cx="460.9" cy="200.6" r="1.6"/><circle cx="465.5" cy="202.6" r="1.6"/><circle cx="469" cy="203.2" r="1.6"/></g>
<g><rect x="24" y="223" width="10.25" height="54" fill="#b7e8c6"/><rect x="34.25" y="223" width="10.9" height="54" fill="#fdf0b3"/><rect x="45.16" y="223" width="10.79" height="54" fill="#f5d5aa"/><rect x="55.94" y="223" width="10.67" height="54" fill="#d5e2f8"/><rect x="66.61" y="223" width="10.9" height="54" fill="#b7e8c6"/><rect x="77.51" y="223" width="10.9" height="54" fill="#fdf0b3"/><rect x="88.42" y="223" width="10.79" height="54" fill="#f5d5aa"/><rect x="99.2" y="223" width="10.79" height="54" fill="#d5e2f8"/><rect x="109.99" y="223" width="10.9" height="54" fill="#b7e8c6"/><rect x="120.89" y="223" width="10.9" height="54" fill="#fdf0b3"/><rect x="131.8" y="223" width="10.79" height="54" fill="#f5d5aa"/><rect x="142.58" y="223" width="10.67" height="54" fill="#d5e2f8"/><rect x="153.25" y="223" width="10.9" height="54" fill="#b7e8c6"/><rect x="164.15" y="223" width="10.9" height="54" fill="#fdf0b3"/><rect x="175.06" y="223" width="10.79" height="54" fill="#f5d5aa"/><rect x="185.84" y="223" width="10.67" height="54" fill="#d5e2f8"/><rect x="196.51" y="223" width="10.9" height="54" fill="#b7e8c6"/><rect x="207.41" y="223" width="10.9" height="54" fill="#fdf0b3"/><rect x="218.32" y="223" width="10.79" height="54" fill="#f5d5aa"/><rect x="229.1" y="223" width="10.67" height="54" fill="#d5e2f8"/><rect x="239.77" y="223" width="10.9" height="54" fill="#b7e8c6"/><rect x="250.67" y="223" width="10.9" height="54" fill="#fdf0b3"/><rect x="261.58" y="223" width="10.79" height="54" fill="#f5d5aa"/><rect x="272.36" y="223" width="10.79" height="54" fill="#d5e2f8"/><rect x="283.15" y="223" width="10.9" height="54" fill="#b7e8c6"/><rect x="294.05" y="223" width="10.9" height="54" fill="#fdf0b3"/><rect x="304.95" y="223" width="10.79" height="54" fill="#f5d5aa"/><rect x="315.74" y="223" width="10.67" height="54" fill="#d5e2f8"/><rect x="326.41" y="223" width="10.9" height="54" fill="#b7e8c6"/><rect x="337.31" y="223" width="10.69" height="54" fill="#fdf0b3"/><line x1="66.61" y1="224" x2="66.61" y2="276" stroke="#000" stroke-width="0.9" stroke-dasharray="0.9 1.4"/><line x1="109.99" y1="224" x2="109.99" y2="276" stroke="#000" stroke-width="0.9" stroke-dasharray="0.9 1.4"/><line x1="153.25" y1="224" x2="153.25" y2="276" stroke="#000" stroke-width="0.9" stroke-dasharray="0.9 1.4"/><line x1="196.51" y1="224" x2="196.51" y2="276" stroke="#000" stroke-width="0.9" stroke-dasharray="0.9 1.4"/><line x1="239.77" y1="224" x2="239.77" y2="276" stroke="#000" stroke-width="0.9" stroke-dasharray="0.9 1.4"/><line x1="283.15" y1="224" x2="283.15" y2="276" stroke="#000" stroke-width="0.9" stroke-dasharray="0.9 1.4"/><line x1="326.41" y1="224" x2="326.41" y2="276" stroke="#000" stroke-width="0.9" stroke-dasharray="0.9 1.4"/><rect x="24" y="223" width="324" height="1" fill="#1a1a1a" fill-opacity="0.5"/><rect x="24" y="276" width="324" height="1" fill="#1a1a1a" fill-opacity="0.5"/><rect x="347" y="223" width="1" height="54" fill="#1a1a1a" fill-opacity="0.55"/><line x1="21.9" y1="274.3" x2="24" y2="274.3" stroke="#333" stroke-width="0.5"/><text class="yl" x="21.2" y="276.3">0</text><line x1="21.9" y1="262.73" x2="24" y2="262.73" stroke="#333" stroke-width="0.5"/><text class="yl" x="21.2" y="264.73">100</text><line x1="21.9" y1="251.15" x2="24" y2="251.15" stroke="#333" stroke-width="0.5"/><text class="yl" x="21.2" y="253.15">200</text><line x1="21.9" y1="239.58" x2="24" y2="239.58" stroke="#333" stroke-width="0.5"/><text class="yl" x="21.2" y="241.58">300</text><line x1="21.9" y1="228" x2="24" y2="228" stroke="#333" stroke-width="0.5"/><text class="yl" x="21.2" y="230">400</text><line x1="24" y1="277" x2="24" y2="278.4" stroke="#333" stroke-width="0.5"/><line x1="45.16" y1="277" x2="45.16" y2="278.4" stroke="#333" stroke-width="0.5"/><line x1="66.61" y1="277" x2="66.61" y2="278.4" stroke="#333" stroke-width="0.5"/><line x1="88.42" y1="277" x2="88.42" y2="278.4" stroke="#333" stroke-width="0.5"/><line x1="109.99" y1="277" x2="109.99" y2="278.4" stroke="#333" stroke-width="0.5"/><line x1="131.8" y1="277" x2="131.8" y2="278.4" stroke="#333" stroke-width="0.5"/><line x1="153.25" y1="277" x2="153.25" y2="278.4" stroke="#333" stroke-width="0.5"/><line x1="175.06" y1="277" x2="175.06" y2="278.4" stroke="#333" stroke-width="0.5"/><line x1="196.51" y1="277" x2="196.51" y2="278.4" stroke="#333" stroke-width="0.5"/><line x1="218.32" y1="277" x2="218.32" y2="278.4" stroke="#333" stroke-width="0.5"/><line x1="239.77" y1="277" x2="239.77" y2="278.4" stroke="#333" stroke-width="0.5"/><line x1="261.58" y1="277" x2="261.58" y2="278.4" stroke="#333" stroke-width="0.5"/><line x1="283.15" y1="277" x2="283.15" y2="278.4" stroke="#333" stroke-width="0.5"/><line x1="304.95" y1="277" x2="304.95" y2="278.4" stroke="#333" stroke-width="0.5"/><line x1="326.41" y1="277" x2="326.41" y2="278.4" stroke="#333" stroke-width="0.5"/><text class="t" transform="translate(26.7 219.75) scale(1 1.07)">La Tour−de−Salvagny B</text><path d="M159.2 268 L163 261.9 L166.4 254.2 L167.9 262.2 L174.5 271.8 L177.6 271.8 L181.7 272 L186.8 273.7 L192.9 271.8 L197.5 268.8 L200.1 263.7 L203.2 260.6 L207.4 257.6 L210.5 255 L214 261.1 L218.2 270.7 L222 272.3 L227.4 272 L234.3 273.3 L238.9 272.3 L241.8 268 L244 261.4 L249.1 243.3 L252.6 239.3 L255 254.3 L261 271.2 L268.1 273.2 L273.6 273.2 L279.4 273.2 L282.6 272.1 L292 264.9 L296 263.3 L298.3 271.2 L303.9 273.2 L308.1 272.9 L311.7 272.9 L315.7 272.9 L318.8 273.4 L322 272.8 L325.6 270.1 L329.9 270.9 L333.3 266.5 L335.9 265.8" fill="none" stroke="#000" stroke-width="1.05" stroke-linejoin="round"/><circle cx="159.2" cy="268" r="1.6"/><circle cx="163" cy="261.9" r="1.6"/><circle cx="166.4" cy="254.2" r="1.6"/><circle cx="167.9" cy="262.2" r="1.6"/><circle cx="174.5" cy="271.8" r="1.6"/><circle cx="177.6" cy="271.8" r="1.6"/><circle cx="181.7" cy="272" r="1.6"/><circle cx="186.8" cy="273.7" r="1.6"/><circle cx="192.9" cy="271.8" r="1.6"/><circle cx="197.5" cy="268.8" r="1.6"/><circle cx="200.1" cy="263.7" r="1.6"/><circle cx="203.2" cy="260.6" r="1.6"/><circle cx="207.4" cy="257.6" r="1.6"/><circle cx="210.5" cy="255" r="1.6"/><circle cx="214" cy="261.1" r="1.6"/><circle cx="218.2" cy="270.7" r="1.6"/><circle cx="222" cy="272.3" r="1.6"/><circle cx="227.4" cy="272" r="1.6"/><circle cx="234.3" cy="273.3" r="1.6"/><circle cx="238.9" cy="272.3" r="1.6"/><circle cx="241.8" cy="268" r="1.6"/><circle cx="244" cy="261.4" r="1.6"/><circle cx="249.1" cy="243.3" r="1.6"/><circle cx="252.6" cy="239.3" r="1.6"/><circle cx="255" cy="254.3" r="1.6"/><circle cx="261" cy="271.2" r="1.6"/><circle cx="268.1" cy="273.2" r="1.6"/><circle cx="273.6" cy="273.2" r="1.6"/><circle cx="279.4" cy="273.2" r="1.6"/><circle cx="282.6" cy="272.1" r="1.6"/><circle cx="292" cy="264.9" r="1.6"/><circle cx="296" cy="263.3" r="1.6"/><circle cx="298.3" cy="271.2" r="1.6"/><circle cx="303.9" cy="273.2" r="1.6"/><circle cx="308.1" cy="272.9" r="1.6"/><circle cx="311.7" cy="272.9" r="1.6"/><circle cx="315.7" cy="272.9" r="1.6"/><circle cx="318.8" cy="273.4" r="1.6"/><circle cx="322" cy="272.8" r="1.6"/><circle cx="325.6" cy="270.1" r="1.6"/><circle cx="329.9" cy="270.9" r="1.6"/><circle cx="333.3" cy="266.5" r="1.6"/><circle cx="335.9" cy="265.8" r="1.6"/></g>
<g><rect x="362" y="223" width="10.34" height="54" fill="#b7e8c6"/><rect x="372.34" y="223" width="10.89" height="54" fill="#fdf0b3"/><rect x="383.23" y="223" width="10.77" height="54" fill="#f5d5aa"/><rect x="394" y="223" width="10.65" height="54" fill="#d5e2f8"/><rect x="404.65" y="223" width="10.89" height="54" fill="#b7e8c6"/><rect x="415.54" y="223" width="10.89" height="54" fill="#fdf0b3"/><rect x="426.43" y="223" width="10.77" height="54" fill="#f5d5aa"/><rect x="437.2" y="223" width="10.77" height="54" fill="#d5e2f8"/><rect x="447.97" y="223" width="10.89" height="54" fill="#b7e8c6"/><rect x="458.86" y="223" width="10.89" height="54" fill="#fdf0b3"/><rect x="469.75" y="223" width="10.77" height="54" fill="#f5d5aa"/><rect x="480.52" y="223" width="10.65" height="54" fill="#d5e2f8"/><rect x="491.17" y="223" width="10.89" height="54" fill="#b7e8c6"/><rect x="502.06" y="223" width="10.89" height="54" fill="#fdf0b3"/><rect x="512.95" y="223" width="10.77" height="54" fill="#f5d5aa"/><rect x="523.72" y="223" width="10.65" height="54" fill="#d5e2f8"/><rect x="534.37" y="223" width="10.89" height="54" fill="#b7e8c6"/><rect x="545.26" y="223" width="10.89" height="54" fill="#fdf0b3"/><rect x="556.15" y="223" width="10.77" height="54" fill="#f5d5aa"/><rect x="566.92" y="223" width="10.65" height="54" fill="#d5e2f8"/><rect x="577.58" y="223" width="10.89" height="54" fill="#b7e8c6"/><rect x="588.46" y="223" width="10.89" height="54" fill="#fdf0b3"/><rect x="599.35" y="223" width="10.77" height="54" fill="#f5d5aa"/><rect x="610.12" y="223" width="10.77" height="54" fill="#d5e2f8"/><rect x="620.9" y="223" width="10.89" height="54" fill="#b7e8c6"/><rect x="631.78" y="223" width="10.89" height="54" fill="#fdf0b3"/><rect x="642.67" y="223" width="10.77" height="54" fill="#f5d5aa"/><rect x="653.44" y="223" width="10.65" height="54" fill="#d5e2f8"/><rect x="664.1" y="223" width="10.89" height="54" fill="#b7e8c6"/><rect x="674.99" y="223" width="10.89" height="54" fill="#fdf0b3"/><rect x="685.87" y="223" width="0.13" height="54" fill="#f5d5aa"/><line x1="404.65" y1="224" x2="404.65" y2="276" stroke="#000" stroke-width="0.9" stroke-dasharray="0.9 1.4"/><line x1="447.97" y1="224" x2="447.97" y2="276" stroke="#000" stroke-width="0.9" stroke-dasharray="0.9 1.4"/><line x1="491.17" y1="224" x2="491.17" y2="276" stroke="#000" stroke-width="0.9" stroke-dasharray="0.9 1.4"/><line x1="534.37" y1="224" x2="534.37" y2="276" stroke="#000" stroke-width="0.9" stroke-dasharray="0.9 1.4"/><line x1="577.58" y1="224" x2="577.58" y2="276" stroke="#000" stroke-width="0.9" stroke-dasharray="0.9 1.4"/><line x1="620.9" y1="224" x2="620.9" y2="276" stroke="#000" stroke-width="0.9" stroke-dasharray="0.9 1.4"/><line x1="664.1" y1="224" x2="664.1" y2="276" stroke="#000" stroke-width="0.9" stroke-dasharray="0.9 1.4"/><rect x="362" y="223" width="324" height="1" fill="#1a1a1a" fill-opacity="0.5"/><rect x="362" y="276" width="324" height="1" fill="#1a1a1a" fill-opacity="0.5"/><rect x="685" y="223" width="1" height="54" fill="#1a1a1a" fill-opacity="0.55"/><rect x="361.4" y="223" width="0.6" height="54" fill="#888"/><line x1="359.9" y1="274.3" x2="362" y2="274.3" stroke="#333" stroke-width="0.5"/><text class="yl" x="359.2" y="276.3">0</text><line x1="359.9" y1="262.73" x2="362" y2="262.73" stroke="#333" stroke-width="0.5"/><text class="yl" x="359.2" y="264.73">100</text><line x1="359.9" y1="251.15" x2="362" y2="251.15" stroke="#333" stroke-width="0.5"/><text class="yl" x="359.2" y="253.15">200</text><line x1="359.9" y1="239.58" x2="362" y2="239.58" stroke="#333" stroke-width="0.5"/><text class="yl" x="359.2" y="241.58">300</text><line x1="359.9" y1="228" x2="362" y2="228" stroke="#333" stroke-width="0.5"/><text class="yl" x="359.2" y="230">400</text><line x1="362" y1="277" x2="362" y2="278.4" stroke="#333" stroke-width="0.5"/><line x1="383.23" y1="277" x2="383.23" y2="278.4" stroke="#333" stroke-width="0.5"/><line x1="404.65" y1="277" x2="404.65" y2="278.4" stroke="#333" stroke-width="0.5"/><line x1="426.43" y1="277" x2="426.43" y2="278.4" stroke="#333" stroke-width="0.5"/><line x1="447.97" y1="277" x2="447.97" y2="278.4" stroke="#333" stroke-width="0.5"/><line x1="469.75" y1="277" x2="469.75" y2="278.4" stroke="#333" stroke-width="0.5"/><line x1="491.17" y1="277" x2="491.17" y2="278.4" stroke="#333" stroke-width="0.5"/><line x1="512.95" y1="277" x2="512.95" y2="278.4" stroke="#333" stroke-width="0.5"/><line x1="534.37" y1="277" x2="534.37" y2="278.4" stroke="#333" stroke-width="0.5"/><line x1="556.15" y1="277" x2="556.15" y2="278.4" stroke="#333" stroke-width="0.5"/><line x1="577.58" y1="277" x2="577.58" y2="278.4" stroke="#333" stroke-width="0.5"/><line x1="599.35" y1="277" x2="599.35" y2="278.4" stroke="#333" stroke-width="0.5"/><line x1="620.9" y1="277" x2="620.9" y2="278.4" stroke="#333" stroke-width="0.5"/><line x1="642.67" y1="277" x2="642.67" y2="278.4" stroke="#333" stroke-width="0.5"/><line x1="664.1" y1="277" x2="664.1" y2="278.4" stroke="#333" stroke-width="0.5"/><text class="t" transform="translate(364.7 219.75) scale(1 1.07)">Etiolles</text><path d="M366.6 263 L370.2 257.5 L375.5 268 L382.1 272.4 L384.4 272.9 L389.2 272.1 L400.7 273.2 L403.4 272.9 L405.7 268.5 L410.1 264.9 L414.4 262.2 L417.5 264.3 L422 271.7 L423.8 272.4 L429.4 272.8 L432.8 271.2 L436.5 273.2 L443.6 272.4 L446.4 272.1 L449.9 270.1 L453 267.4 L462.5 264.3 L467.2 272.1 L470.6 272.8 L473.8 272.4 L489.5 272.9 L491.6 267.4 L495.2 267.7 L500 268.8 L517.3 271.7 L542 262.2 L547.6 261.1 L551 268 L553.1 271.7 L557.8 273.2 L561 272.4 L566.8 272.4 L575.7 272.9 L580.3 263.5 L583 261.6 L586.4 255.6 L591.1 263.3 L595 271.5 L601.3 272.9 L607.3 273.2 L612.1 272.6 L634.6 268.5 L667.1 267.3 L670.5 265.6 L673 263.8" fill="none" stroke="#000" stroke-width="1.05" stroke-linejoin="round"/><circle cx="366.6" cy="263" r="1.6"/><circle cx="370.2" cy="257.5" r="1.6"/><circle cx="375.5" cy="268" r="1.6"/><circle cx="382.1" cy="272.4" r="1.6"/><circle cx="384.4" cy="272.9" r="1.6"/><circle cx="389.2" cy="272.1" r="1.6"/><circle cx="400.7" cy="273.2" r="1.6"/><circle cx="403.4" cy="272.9" r="1.6"/><circle cx="405.7" cy="268.5" r="1.6"/><circle cx="410.1" cy="264.9" r="1.6"/><circle cx="414.4" cy="262.2" r="1.6"/><circle cx="417.5" cy="264.3" r="1.6"/><circle cx="422" cy="271.7" r="1.6"/><circle cx="423.8" cy="272.4" r="1.6"/><circle cx="429.4" cy="272.8" r="1.6"/><circle cx="432.8" cy="271.2" r="1.6"/><circle cx="436.5" cy="273.2" r="1.6"/><circle cx="443.6" cy="272.4" r="1.6"/><circle cx="446.4" cy="272.1" r="1.6"/><circle cx="449.9" cy="270.1" r="1.6"/><circle cx="453" cy="267.4" r="1.6"/><circle cx="462.5" cy="264.3" r="1.6"/><circle cx="467.2" cy="272.1" r="1.6"/><circle cx="470.6" cy="272.8" r="1.6"/><circle cx="473.8" cy="272.4" r="1.6"/><circle cx="489.5" cy="272.9" r="1.6"/><circle cx="491.6" cy="267.4" r="1.6"/><circle cx="495.2" cy="267.7" r="1.6"/><circle cx="500" cy="268.8" r="1.6"/><circle cx="517.3" cy="271.7" r="1.6"/><circle cx="542" cy="262.2" r="1.6"/><circle cx="547.6" cy="261.1" r="1.6"/><circle cx="551" cy="268" r="1.6"/><circle cx="553.1" cy="271.7" r="1.6"/><circle cx="557.8" cy="273.2" r="1.6"/><circle cx="561" cy="272.4" r="1.6"/><circle cx="566.8" cy="272.4" r="1.6"/><circle cx="575.7" cy="272.9" r="1.6"/><circle cx="580.3" cy="263.5" r="1.6"/><circle cx="583" cy="261.6" r="1.6"/><circle cx="586.4" cy="255.6" r="1.6"/><circle cx="591.1" cy="263.3" r="1.6"/><circle cx="595" cy="271.5" r="1.6"/><circle cx="601.3" cy="272.9" r="1.6"/><circle cx="607.3" cy="273.2" r="1.6"/><circle cx="612.1" cy="272.6" r="1.6"/><circle cx="634.6" cy="268.5" r="1.6"/><circle cx="667.1" cy="267.3" r="1.6"/><circle cx="670.5" cy="265.6" r="1.6"/><circle cx="673" cy="263.8" r="1.6"/></g>
<g><rect x="24" y="293" width="10.25" height="53" fill="#b7e8c6"/><rect x="34.25" y="293" width="10.9" height="53" fill="#fdf0b3"/><rect x="45.16" y="293" width="10.79" height="53" fill="#f5d5aa"/><rect x="55.94" y="293" width="10.67" height="53" fill="#d5e2f8"/><rect x="66.61" y="293" width="10.9" height="53" fill="#b7e8c6"/><rect x="77.51" y="293" width="10.9" height="53" fill="#fdf0b3"/><rect x="88.42" y="293" width="10.79" height="53" fill="#f5d5aa"/><rect x="99.2" y="293" width="10.79" height="53" fill="#d5e2f8"/><rect x="109.99" y="293" width="10.9" height="53" fill="#b7e8c6"/><rect x="120.89" y="293" width="10.9" height="53" fill="#fdf0b3"/><rect x="131.8" y="293" width="10.79" height="53" fill="#f5d5aa"/><rect x="142.58" y="293" width="10.67" height="53" fill="#d5e2f8"/><rect x="153.25" y="293" width="10.9" height="53" fill="#b7e8c6"/><rect x="164.15" y="293" width="10.9" height="53" fill="#fdf0b3"/><rect x="175.06" y="293" width="10.79" height="53" fill="#f5d5aa"/><rect x="185.84" y="293" width="10.67" height="53" fill="#d5e2f8"/><rect x="196.51" y="293" width="10.9" height="53" fill="#b7e8c6"/><rect x="207.41" y="293" width="10.9" height="53" fill="#fdf0b3"/><rect x="218.32" y="293" width="10.79" height="53" fill="#f5d5aa"/><rect x="229.1" y="293" width="10.67" height="53" fill="#d5e2f8"/><rect x="239.77" y="293" width="10.9" height="53" fill="#b7e8c6"/><rect x="250.67" y="293" width="10.9" height="53" fill="#fdf0b3"/><rect x="261.58" y="293" width="10.79" height="53" fill="#f5d5aa"/><rect x="272.36" y="293" width="10.79" height="53" fill="#d5e2f8"/><rect x="283.15" y="293" width="10.9" height="53" fill="#b7e8c6"/><rect x="294.05" y="293" width="10.9" height="53" fill="#fdf0b3"/><rect x="304.95" y="293" width="10.79" height="53" fill="#f5d5aa"/><rect x="315.74" y="293" width="10.67" height="53" fill="#d5e2f8"/><rect x="326.41" y="293" width="10.9" height="53" fill="#b7e8c6"/><rect x="337.31" y="293" width="10.69" height="53" fill="#fdf0b3"/><line x1="66.61" y1="294" x2="66.61" y2="346" stroke="#000" stroke-width="0.9" stroke-dasharray="0.9 1.4"/><line x1="109.99" y1="294" x2="109.99" y2="346" stroke="#000" stroke-width="0.9" stroke-dasharray="0.9 1.4"/><line x1="153.25" y1="294" x2="153.25" y2="346" stroke="#000" stroke-width="0.9" stroke-dasharray="0.9 1.4"/><line x1="196.51" y1="294" x2="196.51" y2="346" stroke="#000" stroke-width="0.9" stroke-dasharray="0.9 1.4"/><line x1="239.77" y1="294" x2="239.77" y2="346" stroke="#000" stroke-width="0.9" stroke-dasharray="0.9 1.4"/><line x1="283.15" y1="294" x2="283.15" y2="346" stroke="#000" stroke-width="0.9" stroke-dasharray="0.9 1.4"/><line x1="326.41" y1="294" x2="326.41" y2="346" stroke="#000" stroke-width="0.9" stroke-dasharray="0.9 1.4"/><rect x="24" y="293" width="324" height="1" fill="#1a1a1a" fill-opacity="0.5"/><rect x="24" y="346" width="324" height="1" fill="#6a6a6a"/><rect x="347" y="293" width="1" height="54" fill="#1a1a1a" fill-opacity="0.55"/><line x1="21.9" y1="344.3" x2="24" y2="344.3" stroke="#333" stroke-width="0.5"/><text class="yl" x="21.2" y="346.3">0</text><line x1="21.9" y1="332.73" x2="24" y2="332.73" stroke="#333" stroke-width="0.5"/><text class="yl" x="21.2" y="334.73">100</text><line x1="21.9" y1="321.15" x2="24" y2="321.15" stroke="#333" stroke-width="0.5"/><text class="yl" x="21.2" y="323.15">200</text><line x1="21.9" y1="309.57" x2="24" y2="309.57" stroke="#333" stroke-width="0.5"/><text class="yl" x="21.2" y="311.57">300</text><line x1="21.9" y1="298" x2="24" y2="298" stroke="#333" stroke-width="0.5"/><text class="yl" x="21.2" y="300">400</text><line x1="24" y1="347" x2="24" y2="348.4" stroke="#333" stroke-width="0.5"/><line x1="45.16" y1="347" x2="45.16" y2="348.4" stroke="#333" stroke-width="0.5"/><line x1="66.61" y1="347" x2="66.61" y2="348.4" stroke="#333" stroke-width="0.5"/><line x1="88.42" y1="347" x2="88.42" y2="348.4" stroke="#333" stroke-width="0.5"/><line x1="109.99" y1="347" x2="109.99" y2="348.4" stroke="#333" stroke-width="0.5"/><line x1="131.8" y1="347" x2="131.8" y2="348.4" stroke="#333" stroke-width="0.5"/><line x1="153.25" y1="347" x2="153.25" y2="348.4" stroke="#333" stroke-width="0.5"/><line x1="175.06" y1="347" x2="175.06" y2="348.4" stroke="#333" stroke-width="0.5"/><line x1="196.51" y1="347" x2="196.51" y2="348.4" stroke="#333" stroke-width="0.5"/><line x1="218.32" y1="347" x2="218.32" y2="348.4" stroke="#333" stroke-width="0.5"/><line x1="239.77" y1="347" x2="239.77" y2="348.4" stroke="#333" stroke-width="0.5"/><line x1="261.58" y1="347" x2="261.58" y2="348.4" stroke="#333" stroke-width="0.5"/><line x1="283.15" y1="347" x2="283.15" y2="348.4" stroke="#333" stroke-width="0.5"/><line x1="304.95" y1="347" x2="304.95" y2="348.4" stroke="#333" stroke-width="0.5"/><line x1="326.41" y1="347" x2="326.41" y2="348.4" stroke="#333" stroke-width="0.5"/><text class="t" transform="translate(26.7 289.75) scale(1 1.07)">Carquefou</text><path d="M37.4 339 L39.7 341.2 L43.8 343.2 L47.5 342.9 L51.6 342.1 L54.8 340.1 L59.5 343.6 L63.3 342.1 L65.8 341.7 L68 325.4 L72.1 324.8 L76.4 319.6 L80.3 334.3 L83.5 338.5 L87 343.2 L91.4 342.4 L94.5 341.2 L98.5 341.2 L102.1 340.9 L105.6 340.9 L108.7 341.2 L111.9 341.7 L115.8 337.7 L120.1 331.1 L123.7 337.7 L127.1 341 L129.9 342.9 L133.6 342.8 L137.8 340.1 L141.8 339.3 L144.9 339.3 L148.1 343.7 L151.5 329.8 L154.7 294.8 L159.1 307 L162.3 306.5 L167 337.7 L170.6 339 L173.6 343.2 L177.7 342.8 L181.5 340.1 L184.6 341.2 L188.3 339.3 L191.4 340.1 L195.4 332.7 L198.8 325.4 L202.5 324.3 L205.9 323.5 L209.6 331.1 L213.5 336.9 L217.1 341.7 L221.1 343.2 L224.5 342.1 L227.7 340.9 L230.8 342.6 L234.2 335.7 L239 330.8 L242.1 315.3 L245.5 320.4 L248.9 325.1 L252.4 331.3 L255.8 341.1 L260.1 342.8 L264.1 342.5 L267 342 L270.5 338.5 L274.4 340.6 L278.2 339 L281.7 329.6 L292 332 L296.3 335.1 L299.8 342.3 L303.7 343.7 L306.7 343.7 L310.1 342.3 L314.1 340.8 L317.9 342.3 L321.3 339.4 L325.1 336.4 L327.8 328.2 L330.8 334.7 L335.1 334.2" fill="none" stroke="#000" stroke-width="1.05" stroke-linejoin="round"/><circle cx="37.4" cy="339" r="1.6"/><circle cx="39.7" cy="341.2" r="1.6"/><circle cx="43.8" cy="343.2" r="1.6"/><circle cx="47.5" cy="342.9" r="1.6"/><circle cx="51.6" cy="342.1" r="1.6"/><circle cx="54.8" cy="340.1" r="1.6"/><circle cx="59.5" cy="343.6" r="1.6"/><circle cx="63.3" cy="342.1" r="1.6"/><circle cx="65.8" cy="341.7" r="1.6"/><circle cx="68" cy="325.4" r="1.6"/><circle cx="72.1" cy="324.8" r="1.6"/><circle cx="76.4" cy="319.6" r="1.6"/><circle cx="80.3" cy="334.3" r="1.6"/><circle cx="83.5" cy="338.5" r="1.6"/><circle cx="87" cy="343.2" r="1.6"/><circle cx="91.4" cy="342.4" r="1.6"/><circle cx="94.5" cy="341.2" r="1.6"/><circle cx="98.5" cy="341.2" r="1.6"/><circle cx="102.1" cy="340.9" r="1.6"/><circle cx="105.6" cy="340.9" r="1.6"/><circle cx="108.7" cy="341.2" r="1.6"/><circle cx="111.9" cy="341.7" r="1.6"/><circle cx="115.8" cy="337.7" r="1.6"/><circle cx="120.1" cy="331.1" r="1.6"/><circle cx="123.7" cy="337.7" r="1.6"/><circle cx="127.1" cy="341" r="1.6"/><circle cx="129.9" cy="342.9" r="1.6"/><circle cx="133.6" cy="342.8" r="1.6"/><circle cx="137.8" cy="340.1" r="1.6"/><circle cx="141.8" cy="339.3" r="1.6"/><circle cx="144.9" cy="339.3" r="1.6"/><circle cx="148.1" cy="343.7" r="1.6"/><circle cx="151.5" cy="329.8" r="1.6"/><circle cx="154.7" cy="294.8" r="1.6"/><circle cx="159.1" cy="307" r="1.6"/><circle cx="162.3" cy="306.5" r="1.6"/><circle cx="167" cy="337.7" r="1.6"/><circle cx="170.6" cy="339" r="1.6"/><circle cx="173.6" cy="343.2" r="1.6"/><circle cx="177.7" cy="342.8" r="1.6"/><circle cx="181.5" cy="340.1" r="1.6"/><circle cx="184.6" cy="341.2" r="1.6"/><circle cx="188.3" cy="339.3" r="1.6"/><circle cx="191.4" cy="340.1" r="1.6"/><circle cx="195.4" cy="332.7" r="1.6"/><circle cx="198.8" cy="325.4" r="1.6"/><circle cx="202.5" cy="324.3" r="1.6"/><circle cx="205.9" cy="323.5" r="1.6"/><circle cx="209.6" cy="331.1" r="1.6"/><circle cx="213.5" cy="336.9" r="1.6"/><circle cx="217.1" cy="341.7" r="1.6"/><circle cx="221.1" cy="343.2" r="1.6"/><circle cx="224.5" cy="342.1" r="1.6"/><circle cx="227.7" cy="340.9" r="1.6"/><circle cx="230.8" cy="342.6" r="1.6"/><circle cx="234.2" cy="335.7" r="1.6"/><circle cx="239" cy="330.8" r="1.6"/><circle cx="242.1" cy="315.3" r="1.6"/><circle cx="245.5" cy="320.4" r="1.6"/><circle cx="248.9" cy="325.1" r="1.6"/><circle cx="252.4" cy="331.3" r="1.6"/><circle cx="255.8" cy="341.1" r="1.6"/><circle cx="260.1" cy="342.8" r="1.6"/><circle cx="264.1" cy="342.5" r="1.6"/><circle cx="267" cy="342" r="1.6"/><circle cx="270.5" cy="338.5" r="1.6"/><circle cx="274.4" cy="340.6" r="1.6"/><circle cx="278.2" cy="339" r="1.6"/><circle cx="281.7" cy="329.6" r="1.6"/><circle cx="292" cy="332" r="1.6"/><circle cx="296.3" cy="335.1" r="1.6"/><circle cx="299.8" cy="342.3" r="1.6"/><circle cx="303.7" cy="343.7" r="1.6"/><circle cx="306.7" cy="343.7" r="1.6"/><circle cx="310.1" cy="342.3" r="1.6"/><circle cx="314.1" cy="340.8" r="1.6"/><circle cx="317.9" cy="342.3" r="1.6"/><circle cx="321.3" cy="339.4" r="1.6"/><circle cx="325.1" cy="336.4" r="1.6"/><circle cx="327.8" cy="328.2" r="1.6"/><circle cx="330.8" cy="334.7" r="1.6"/><circle cx="335.1" cy="334.2" r="1.6"/></g>
<g><rect x="362" y="293" width="10.34" height="53" fill="#b7e8c6"/><rect x="372.34" y="293" width="10.89" height="53" fill="#fdf0b3"/><rect x="383.23" y="293" width="10.77" height="53" fill="#f5d5aa"/><rect x="394" y="293" width="10.65" height="53" fill="#d5e2f8"/><rect x="404.65" y="293" width="10.89" height="53" fill="#b7e8c6"/><rect x="415.54" y="293" width="10.89" height="53" fill="#fdf0b3"/><rect x="426.43" y="293" width="10.77" height="53" fill="#f5d5aa"/><rect x="437.2" y="293" width="10.77" height="53" fill="#d5e2f8"/><rect x="447.97" y="293" width="10.89" height="53" fill="#b7e8c6"/><rect x="458.86" y="293" width="10.89" height="53" fill="#fdf0b3"/><rect x="469.75" y="293" width="10.77" height="53" fill="#f5d5aa"/><rect x="480.52" y="293" width="10.65" height="53" fill="#d5e2f8"/><rect x="491.17" y="293" width="10.89" height="53" fill="#b7e8c6"/><rect x="502.06" y="293" width="10.89" height="53" fill="#fdf0b3"/><rect x="512.95" y="293" width="10.77" height="53" fill="#f5d5aa"/><rect x="523.72" y="293" width="10.65" height="53" fill="#d5e2f8"/><rect x="534.37" y="293" width="10.89" height="53" fill="#b7e8c6"/><rect x="545.26" y="293" width="10.89" height="53" fill="#fdf0b3"/><rect x="556.15" y="293" width="10.77" height="53" fill="#f5d5aa"/><rect x="566.92" y="293" width="10.65" height="53" fill="#d5e2f8"/><rect x="577.58" y="293" width="10.89" height="53" fill="#b7e8c6"/><rect x="588.46" y="293" width="10.89" height="53" fill="#fdf0b3"/><rect x="599.35" y="293" width="10.77" height="53" fill="#f5d5aa"/><rect x="610.12" y="293" width="10.77" height="53" fill="#d5e2f8"/><rect x="620.9" y="293" width="10.89" height="53" fill="#b7e8c6"/><rect x="631.78" y="293" width="10.89" height="53" fill="#fdf0b3"/><rect x="642.67" y="293" width="10.77" height="53" fill="#f5d5aa"/><rect x="653.44" y="293" width="10.65" height="53" fill="#d5e2f8"/><rect x="664.1" y="293" width="10.89" height="53" fill="#b7e8c6"/><rect x="674.99" y="293" width="10.89" height="53" fill="#fdf0b3"/><rect x="685.87" y="293" width="0.13" height="53" fill="#f5d5aa"/><line x1="404.65" y1="294" x2="404.65" y2="346" stroke="#000" stroke-width="0.9" stroke-dasharray="0.9 1.4"/><line x1="447.97" y1="294" x2="447.97" y2="346" stroke="#000" stroke-width="0.9" stroke-dasharray="0.9 1.4"/><line x1="491.17" y1="294" x2="491.17" y2="346" stroke="#000" stroke-width="0.9" stroke-dasharray="0.9 1.4"/><line x1="534.37" y1="294" x2="534.37" y2="346" stroke="#000" stroke-width="0.9" stroke-dasharray="0.9 1.4"/><line x1="577.58" y1="294" x2="577.58" y2="346" stroke="#000" stroke-width="0.9" stroke-dasharray="0.9 1.4"/><line x1="620.9" y1="294" x2="620.9" y2="346" stroke="#000" stroke-width="0.9" stroke-dasharray="0.9 1.4"/><line x1="664.1" y1="294" x2="664.1" y2="346" stroke="#000" stroke-width="0.9" stroke-dasharray="0.9 1.4"/><rect x="362" y="293" width="324" height="1" fill="#1a1a1a" fill-opacity="0.5"/><rect x="362" y="346" width="324" height="1" fill="#6a6a6a"/><rect x="685" y="293" width="1" height="54" fill="#1a1a1a" fill-opacity="0.55"/><rect x="361.4" y="293" width="0.6" height="54" fill="#888"/><line x1="359.9" y1="344.3" x2="362" y2="344.3" stroke="#333" stroke-width="0.5"/><text class="yl" x="359.2" y="346.3">0</text><line x1="359.9" y1="332.73" x2="362" y2="332.73" stroke="#333" stroke-width="0.5"/><text class="yl" x="359.2" y="334.73">100</text><line x1="359.9" y1="321.15" x2="362" y2="321.15" stroke="#333" stroke-width="0.5"/><text class="yl" x="359.2" y="323.15">200</text><line x1="359.9" y1="309.57" x2="362" y2="309.57" stroke="#333" stroke-width="0.5"/><text class="yl" x="359.2" y="311.57">300</text><line x1="359.9" y1="298" x2="362" y2="298" stroke="#333" stroke-width="0.5"/><text class="yl" x="359.2" y="300">400</text><line x1="362" y1="347" x2="362" y2="348.4" stroke="#333" stroke-width="0.5"/><line x1="383.23" y1="347" x2="383.23" y2="348.4" stroke="#333" stroke-width="0.5"/><line x1="404.65" y1="347" x2="404.65" y2="348.4" stroke="#333" stroke-width="0.5"/><line x1="426.43" y1="347" x2="426.43" y2="348.4" stroke="#333" stroke-width="0.5"/><line x1="447.97" y1="347" x2="447.97" y2="348.4" stroke="#333" stroke-width="0.5"/><line x1="469.75" y1="347" x2="469.75" y2="348.4" stroke="#333" stroke-width="0.5"/><line x1="491.17" y1="347" x2="491.17" y2="348.4" stroke="#333" stroke-width="0.5"/><line x1="512.95" y1="347" x2="512.95" y2="348.4" stroke="#333" stroke-width="0.5"/><line x1="534.37" y1="347" x2="534.37" y2="348.4" stroke="#333" stroke-width="0.5"/><line x1="556.15" y1="347" x2="556.15" y2="348.4" stroke="#333" stroke-width="0.5"/><line x1="577.58" y1="347" x2="577.58" y2="348.4" stroke="#333" stroke-width="0.5"/><line x1="599.35" y1="347" x2="599.35" y2="348.4" stroke="#333" stroke-width="0.5"/><line x1="620.9" y1="347" x2="620.9" y2="348.4" stroke="#333" stroke-width="0.5"/><line x1="642.67" y1="347" x2="642.67" y2="348.4" stroke="#333" stroke-width="0.5"/><line x1="664.1" y1="347" x2="664.1" y2="348.4" stroke="#333" stroke-width="0.5"/><text class="xl" x="361.45" y="352.7">Mar 14</text><text class="xl" x="383.23" y="352.7">Sep 14</text><text class="xl" x="404.65" y="352.7">Mar 15</text><text class="xl" x="426.43" y="352.7">Sep 15</text><text class="xl" x="447.97" y="352.7">Mar 16</text><text class="xl" x="469.75" y="352.7">Sep 16</text><text class="xl" x="491.17" y="352.7">Mar 17</text><text class="xl" x="512.95" y="352.7">Sep 17</text><text class="xl" x="534.37" y="352.7">Mar 18</text><text class="xl" x="556.15" y="352.7">Sep 18</text><text class="xl" x="577.58" y="352.7">Mar 19</text><text class="xl" x="599.35" y="352.7">Sep 19</text><text class="xl" x="620.9" y="352.7">Mar 20</text><text class="xl" x="642.67" y="352.7">Sep 20</text><text class="xl" x="664.1" y="352.7">Mar 21</text><text class="t" transform="translate(364.7 289.75) scale(1 1.07)">Gardouch Ext.</text><path d="M367.6 332.2 L371 337.2 L374.5 338.2 L378.9 340.9 L382.4 343.6 L385.5 343.2 L388.7 342.8 L393.1 340.9 L400.2 340.1 L404.5 342.8 L407.3 332.2 L410.8 333 L414.1 331.1 L418.3 340.6 L422 342.8 L425.4 343.2 L429.1 342.4 L432.5 335.4 L436.5 343.2 L438.8 339.6 L443.6 338.5 L447.2 331.4 L450.3 318 L453.3 319.6 L457 314.1 L461.2 337.7 L465.3 341.2 L468.4 343.6 L471.9 343.6 L475.8 343.6 L479.5 343.6 L482.1 342.1 L487.3 343.7 L490 338 L493.2 336.9 L496.8 336.1 L500 333.8 L502.6 332.2 L505.8 342.1 L509.4 343.7 L515.2 344 L518.9 342.9 L523.1 341.7 L526.7 342.4 L530.2 339 L536.5 343.2 L540 336.5 L542.8 332.2 L546.8 338 L549.9 342.1 L553.9 343.6 L557.8 343.6 L561.4 343.7 L564.9 344 L568.8 343.4 L573.5 342.9 L576.5 340.7 L579.6 338.1 L583 334.7 L587.1 333.5 L589.3 336.4 L593.3 342.9 L597.4 343.8 L601.3 343.2 L604.7 341.9 L608.1 342.4 L612.1 343.2 L615.8 342 L620.1 338.1 L622.3 341.9 L626.9 340.7 L631.2 341.5 L635.5 342.9 L639.7 343.2 L644 343.2 L648.3 342.4 L652.5 343.2 L656 343.2 L660.2 342.4 L663.6 342 L667.1 341.9 L670.5 342.4 L674.2 340.7 L676.5 343.2" fill="none" stroke="#000" stroke-width="1.05" stroke-linejoin="round"/><circle cx="367.6" cy="332.2" r="1.6"/><circle cx="371" cy="337.2" r="1.6"/><circle cx="374.5" cy="338.2" r="1.6"/><circle cx="378.9" cy="340.9" r="1.6"/><circle cx="382.4" cy="343.6" r="1.6"/><circle cx="385.5" cy="343.2" r="1.6"/><circle cx="388.7" cy="342.8" r="1.6"/><circle cx="393.1" cy="340.9" r="1.6"/><circle cx="400.2" cy="340.1" r="1.6"/><circle cx="404.5" cy="342.8" r="1.6"/><circle cx="407.3" cy="332.2" r="1.6"/><circle cx="410.8" cy="333" r="1.6"/><circle cx="414.1" cy="331.1" r="1.6"/><circle cx="418.3" cy="340.6" r="1.6"/><circle cx="422" cy="342.8" r="1.6"/><circle cx="425.4" cy="343.2" r="1.6"/><circle cx="429.1" cy="342.4" r="1.6"/><circle cx="432.5" cy="335.4" r="1.6"/><circle cx="436.5" cy="343.2" r="1.6"/><circle cx="438.8" cy="339.6" r="1.6"/><circle cx="443.6" cy="338.5" r="1.6"/><circle cx="447.2" cy="331.4" r="1.6"/><circle cx="450.3" cy="318" r="1.6"/><circle cx="453.3" cy="319.6" r="1.6"/><circle cx="457" cy="314.1" r="1.6"/><circle cx="461.2" cy="337.7" r="1.6"/><circle cx="465.3" cy="341.2" r="1.6"/><circle cx="468.4" cy="343.6" r="1.6"/><circle cx="471.9" cy="343.6" r="1.6"/><circle cx="475.8" cy="343.6" r="1.6"/><circle cx="479.5" cy="343.6" r="1.6"/><circle cx="482.1" cy="342.1" r="1.6"/><circle cx="487.3" cy="343.7" r="1.6"/><circle cx="490" cy="338" r="1.6"/><circle cx="493.2" cy="336.9" r="1.6"/><circle cx="496.8" cy="336.1" r="1.6"/><circle cx="500" cy="333.8" r="1.6"/><circle cx="502.6" cy="332.2" r="1.6"/><circle cx="505.8" cy="342.1" r="1.6"/><circle cx="509.4" cy="343.7" r="1.6"/><circle cx="515.2" cy="344" r="1.6"/><circle cx="518.9" cy="342.9" r="1.6"/><circle cx="523.1" cy="341.7" r="1.6"/><circle cx="526.7" cy="342.4" r="1.6"/><circle cx="530.2" cy="339" r="1.6"/><circle cx="536.5" cy="343.2" r="1.6"/><circle cx="540" cy="336.5" r="1.6"/><circle cx="542.8" cy="332.2" r="1.6"/><circle cx="546.8" cy="338" r="1.6"/><circle cx="549.9" cy="342.1" r="1.6"/><circle cx="553.9" cy="343.6" r="1.6"/><circle cx="557.8" cy="343.6" r="1.6"/><circle cx="561.4" cy="343.7" r="1.6"/><circle cx="564.9" cy="344" r="1.6"/><circle cx="568.8" cy="343.4" r="1.6"/><circle cx="573.5" cy="342.9" r="1.6"/><circle cx="576.5" cy="340.7" r="1.6"/><circle cx="579.6" cy="338.1" r="1.6"/><circle cx="583" cy="334.7" r="1.6"/><circle cx="587.1" cy="333.5" r="1.6"/><circle cx="589.3" cy="336.4" r="1.6"/><circle cx="593.3" cy="342.9" r="1.6"/><circle cx="597.4" cy="343.8" r="1.6"/><circle cx="601.3" cy="343.2" r="1.6"/><circle cx="604.7" cy="341.9" r="1.6"/><circle cx="608.1" cy="342.4" r="1.6"/><circle cx="612.1" cy="343.2" r="1.6"/><circle cx="615.8" cy="342" r="1.6"/><circle cx="620.1" cy="338.1" r="1.6"/><circle cx="622.3" cy="341.9" r="1.6"/><circle cx="626.9" cy="340.7" r="1.6"/><circle cx="631.2" cy="341.5" r="1.6"/><circle cx="635.5" cy="342.9" r="1.6"/><circle cx="639.7" cy="343.2" r="1.6"/><circle cx="644" cy="343.2" r="1.6"/><circle cx="648.3" cy="342.4" r="1.6"/><circle cx="652.5" cy="343.2" r="1.6"/><circle cx="656" cy="343.2" r="1.6"/><circle cx="660.2" cy="342.4" r="1.6"/><circle cx="663.6" cy="342" r="1.6"/><circle cx="667.1" cy="341.9" r="1.6"/><circle cx="670.5" cy="342.4" r="1.6"/><circle cx="674.2" cy="340.7" r="1.6"/><circle cx="676.5" cy="343.2" r="1.6"/></g>
<g><rect x="24" y="364" width="10.25" height="53" fill="#b7e8c6"/><rect x="34.25" y="364" width="10.9" height="53" fill="#fdf0b3"/><rect x="45.16" y="364" width="10.79" height="53" fill="#f5d5aa"/><rect x="55.94" y="364" width="10.67" height="53" fill="#d5e2f8"/><rect x="66.61" y="364" width="10.9" height="53" fill="#b7e8c6"/><rect x="77.51" y="364" width="10.9" height="53" fill="#fdf0b3"/><rect x="88.42" y="364" width="10.79" height="53" fill="#f5d5aa"/><rect x="99.2" y="364" width="10.79" height="53" fill="#d5e2f8"/><rect x="109.99" y="364" width="10.9" height="53" fill="#b7e8c6"/><rect x="120.89" y="364" width="10.9" height="53" fill="#fdf0b3"/><rect x="131.8" y="364" width="10.79" height="53" fill="#f5d5aa"/><rect x="142.58" y="364" width="10.67" height="53" fill="#d5e2f8"/><rect x="153.25" y="364" width="10.9" height="53" fill="#b7e8c6"/><rect x="164.15" y="364" width="10.9" height="53" fill="#fdf0b3"/><rect x="175.06" y="364" width="10.79" height="53" fill="#f5d5aa"/><rect x="185.84" y="364" width="10.67" height="53" fill="#d5e2f8"/><rect x="196.51" y="364" width="10.9" height="53" fill="#b7e8c6"/><rect x="207.41" y="364" width="10.9" height="53" fill="#fdf0b3"/><rect x="218.32" y="364" width="10.79" height="53" fill="#f5d5aa"/><rect x="229.1" y="364" width="10.67" height="53" fill="#d5e2f8"/><rect x="239.77" y="364" width="10.9" height="53" fill="#b7e8c6"/><rect x="250.67" y="364" width="10.9" height="53" fill="#fdf0b3"/><rect x="261.58" y="364" width="10.79" height="53" fill="#f5d5aa"/><rect x="272.36" y="364" width="10.79" height="53" fill="#d5e2f8"/><rect x="283.15" y="364" width="10.9" height="53" fill="#b7e8c6"/><rect x="294.05" y="364" width="10.9" height="53" fill="#fdf0b3"/><rect x="304.95" y="364" width="10.79" height="53" fill="#f5d5aa"/><rect x="315.74" y="364" width="10.67" height="53" fill="#d5e2f8"/><rect x="326.41" y="364" width="10.9" height="53" fill="#b7e8c6"/><rect x="337.31" y="364" width="10.69" height="53" fill="#fdf0b3"/><line x1="66.61" y1="364" x2="66.61" y2="416" stroke="#000" stroke-width="0.9" stroke-dasharray="0.9 1.4"/><line x1="109.99" y1="364" x2="109.99" y2="416" stroke="#000" stroke-width="0.9" stroke-dasharray="0.9 1.4"/><line x1="153.25" y1="364" x2="153.25" y2="416" stroke="#000" stroke-width="0.9" stroke-dasharray="0.9 1.4"/><line x1="196.51" y1="364" x2="196.51" y2="416" stroke="#000" stroke-width="0.9" stroke-dasharray="0.9 1.4"/><line x1="239.77" y1="364" x2="239.77" y2="416" stroke="#000" stroke-width="0.9" stroke-dasharray="0.9 1.4"/><line x1="283.15" y1="364" x2="283.15" y2="416" stroke="#000" stroke-width="0.9" stroke-dasharray="0.9 1.4"/><line x1="326.41" y1="364" x2="326.41" y2="416" stroke="#000" stroke-width="0.9" stroke-dasharray="0.9 1.4"/><rect x="24" y="363" width="324" height="1" fill="#6a6a6a"/><rect x="24" y="416" width="324" height="1" fill="#1a1a1a" fill-opacity="0.5"/><rect x="347" y="363" width="1" height="54" fill="#1a1a1a" fill-opacity="0.55"/><line x1="21.9" y1="414.3" x2="24" y2="414.3" stroke="#333" stroke-width="0.5"/><text class="yl" x="21.2" y="416.3">0</text><line x1="21.9" y1="402.73" x2="24" y2="402.73" stroke="#333" stroke-width="0.5"/><text class="yl" x="21.2" y="404.73">100</text><line x1="21.9" y1="391.15" x2="24" y2="391.15" stroke="#333" stroke-width="0.5"/><text class="yl" x="21.2" y="393.15">200</text><line x1="21.9" y1="379.57" x2="24" y2="379.57" stroke="#333" stroke-width="0.5"/><text class="yl" x="21.2" y="381.57">300</text><line x1="21.9" y1="368" x2="24" y2="368" stroke="#333" stroke-width="0.5"/><text class="yl" x="21.2" y="370">400</text><line x1="24" y1="417" x2="24" y2="418.4" stroke="#333" stroke-width="0.5"/><line x1="45.16" y1="417" x2="45.16" y2="418.4" stroke="#333" stroke-width="0.5"/><line x1="66.61" y1="417" x2="66.61" y2="418.4" stroke="#333" stroke-width="0.5"/><line x1="88.42" y1="417" x2="88.42" y2="418.4" stroke="#333" stroke-width="0.5"/><line x1="109.99" y1="417" x2="109.99" y2="418.4" stroke="#333" stroke-width="0.5"/><line x1="131.8" y1="417" x2="131.8" y2="418.4" stroke="#333" stroke-width="0.5"/><line x1="153.25" y1="417" x2="153.25" y2="418.4" stroke="#333" stroke-width="0.5"/><line x1="175.06" y1="417" x2="175.06" y2="418.4" stroke="#333" stroke-width="0.5"/><line x1="196.51" y1="417" x2="196.51" y2="418.4" stroke="#333" stroke-width="0.5"/><line x1="218.32" y1="417" x2="218.32" y2="418.4" stroke="#333" stroke-width="0.5"/><line x1="239.77" y1="417" x2="239.77" y2="418.4" stroke="#333" stroke-width="0.5"/><line x1="261.58" y1="417" x2="261.58" y2="418.4" stroke="#333" stroke-width="0.5"/><line x1="283.15" y1="417" x2="283.15" y2="418.4" stroke="#333" stroke-width="0.5"/><line x1="304.95" y1="417" x2="304.95" y2="418.4" stroke="#333" stroke-width="0.5"/><line x1="326.41" y1="417" x2="326.41" y2="418.4" stroke="#333" stroke-width="0.5"/><text class="xl" x="23.35" y="422.7">Mar 14</text><text class="xl" x="45.16" y="422.7">Sep 14</text><text class="xl" x="66.61" y="422.7">Mar 15</text><text class="xl" x="88.42" y="422.7">Sep 15</text><text class="xl" x="109.99" y="422.7">Mar 16</text><text class="xl" x="131.8" y="422.7">Sep 16</text><text class="xl" x="153.25" y="422.7">Mar 17</text><text class="xl" x="175.06" y="422.7">Sep 17</text><text class="xl" x="196.51" y="422.7">Mar 18</text><text class="xl" x="218.32" y="422.7">Sep 18</text><text class="xl" x="239.77" y="422.7">Mar 19</text><text class="xl" x="261.58" y="422.7">Sep 19</text><text class="xl" x="283.15" y="422.7">Mar 20</text><text class="xl" x="304.95" y="422.7">Sep 20</text><text class="xl" x="326.41" y="422.7">Mar 21</text><text class="t" transform="translate(26.7 359.75) scale(1 1.07)">Gardouch Int.</text><path d="M29.9 386.9 L33.4 394.8 L36.5 397 L40.9 409.6 L44.4 413.2 L47.5 413.2 L50.7 412.8 L55.1 410.1 L62.2 408 L66.5 411.2 L69.6 390.1 L72.8 388.8 L76.4 385.6 L80.3 402.7 L84.3 411.2 L87.4 412.4 L91 410.9 L94.5 407.7 L98.5 411.2 L101.1 408.5 L105.6 408.2 L109.5 403.3 L112.7 404.6 L115.3 400.6 L119.4 394.3 L123.4 411.7 L127.3 413.2 L130.7 413.7 L134.2 413.2 L138.3 409.8 L141.8 407.7 L144.6 408.8 L149.3 413.7 L152 407.7 L154.7 402.2 L159.1 400.2 L162.6 404.1 L164.6 400.6 L168.3 412.4 L171.7 413.7 L177.2 412.8 L180.9 411.2 L185.1 410.6 L188.7 411.7 L192.5 408.8 L198.8 412.4 L202.5 407.7 L205.6 409.3 L208.8 409 L211.9 413.2 L216.2 413.2 L220.3 413.7 L224.1 413.2 L228.2 413.2 L231.5 413.2 L235.5 412.8 L238.6 408.9 L242.1 404.7 L245.5 396.8 L249.5 386.1 L251.2 396.5 L255.5 409.4 L259.6 414 L263.1 413.3 L267 411.1 L270.5 409.4 L274.4 409.4 L277.4 408.5 L282.2 390.9 L284.8 401.6 L288.6 391.6 L293.4 397.3 L296.3 403.7 L299.3 408.9 L303.2 413.3 L306.7 414 L310.1 413.3 L314.1 412.5 L317.9 412 L321.3 408.2 L325.1 408.5 L328.7 402 L332 403.3 L336.5 393.9 L338.9 406.4" fill="none" stroke="#000" stroke-width="1.05" stroke-linejoin="round"/><circle cx="29.9" cy="386.9" r="1.6"/><circle cx="33.4" cy="394.8" r="1.6"/><circle cx="36.5" cy="397" r="1.6"/><circle cx="40.9" cy="409.6" r="1.6"/><circle cx="44.4" cy="413.2" r="1.6"/><circle cx="47.5" cy="413.2" r="1.6"/><circle cx="50.7" cy="412.8" r="1.6"/><circle cx="55.1" cy="410.1" r="1.6"/><circle cx="62.2" cy="408" r="1.6"/><circle cx="66.5" cy="411.2" r="1.6"/><circle cx="69.6" cy="390.1" r="1.6"/><circle cx="72.8" cy="388.8" r="1.6"/><circle cx="76.4" cy="385.6" r="1.6"/><circle cx="80.3" cy="402.7" r="1.6"/><circle cx="84.3" cy="411.2" r="1.6"/><circle cx="87.4" cy="412.4" r="1.6"/><circle cx="91" cy="410.9" r="1.6"/><circle cx="94.5" cy="407.7" r="1.6"/><circle cx="98.5" cy="411.2" r="1.6"/><circle cx="101.1" cy="408.5" r="1.6"/><circle cx="105.6" cy="408.2" r="1.6"/><circle cx="109.5" cy="403.3" r="1.6"/><circle cx="112.7" cy="404.6" r="1.6"/><circle cx="115.3" cy="400.6" r="1.6"/><circle cx="119.4" cy="394.3" r="1.6"/><circle cx="123.4" cy="411.7" r="1.6"/><circle cx="127.3" cy="413.2" r="1.6"/><circle cx="130.7" cy="413.7" r="1.6"/><circle cx="134.2" cy="413.2" r="1.6"/><circle cx="138.3" cy="409.8" r="1.6"/><circle cx="141.8" cy="407.7" r="1.6"/><circle cx="144.6" cy="408.8" r="1.6"/><circle cx="149.3" cy="413.7" r="1.6"/><circle cx="152" cy="407.7" r="1.6"/><circle cx="154.7" cy="402.2" r="1.6"/><circle cx="159.1" cy="400.2" r="1.6"/><circle cx="162.6" cy="404.1" r="1.6"/><circle cx="164.6" cy="400.6" r="1.6"/><circle cx="168.3" cy="412.4" r="1.6"/><circle cx="171.7" cy="413.7" r="1.6"/><circle cx="177.2" cy="412.8" r="1.6"/><circle cx="180.9" cy="411.2" r="1.6"/><circle cx="185.1" cy="410.6" r="1.6"/><circle cx="188.7" cy="411.7" r="1.6"/><circle cx="192.5" cy="408.8" r="1.6"/><circle cx="198.8" cy="412.4" r="1.6"/><circle cx="202.5" cy="407.7" r="1.6"/><circle cx="205.6" cy="409.3" r="1.6"/><circle cx="208.8" cy="409" r="1.6"/><circle cx="211.9" cy="413.2" r="1.6"/><circle cx="216.2" cy="413.2" r="1.6"/><circle cx="220.3" cy="413.7" r="1.6"/><circle cx="224.1" cy="413.2" r="1.6"/><circle cx="228.2" cy="413.2" r="1.6"/><circle cx="231.5" cy="413.2" r="1.6"/><circle cx="235.5" cy="412.8" r="1.6"/><circle cx="238.6" cy="408.9" r="1.6"/><circle cx="242.1" cy="404.7" r="1.6"/><circle cx="245.5" cy="396.8" r="1.6"/><circle cx="249.5" cy="386.1" r="1.6"/><circle cx="251.2" cy="396.5" r="1.6"/><circle cx="255.5" cy="409.4" r="1.6"/><circle cx="259.6" cy="414" r="1.6"/><circle cx="263.1" cy="413.3" r="1.6"/><circle cx="267" cy="411.1" r="1.6"/><circle cx="270.5" cy="409.4" r="1.6"/><circle cx="274.4" cy="409.4" r="1.6"/><circle cx="277.4" cy="408.5" r="1.6"/><circle cx="282.2" cy="390.9" r="1.6"/><circle cx="284.8" cy="401.6" r="1.6"/><circle cx="288.6" cy="391.6" r="1.6"/><circle cx="293.4" cy="397.3" r="1.6"/><circle cx="296.3" cy="403.7" r="1.6"/><circle cx="299.3" cy="408.9" r="1.6"/><circle cx="303.2" cy="413.3" r="1.6"/><circle cx="306.7" cy="414" r="1.6"/><circle cx="310.1" cy="413.3" r="1.6"/><circle cx="314.1" cy="412.5" r="1.6"/><circle cx="317.9" cy="412" r="1.6"/><circle cx="321.3" cy="408.2" r="1.6"/><circle cx="325.1" cy="408.5" r="1.6"/><circle cx="328.7" cy="402" r="1.6"/><circle cx="332" cy="403.3" r="1.6"/><circle cx="336.5" cy="393.9" r="1.6"/><circle cx="338.9" cy="406.4" r="1.6"/></g>
<text transform="translate(7.8,213.9) rotate(-90)" text-anchor="middle" style="font-size:7.4px;fill:#000">Number of <tspan font-style="italic">I. ricinus</tspan> nymphs per 100 m<tspan dy="-2.4" style="font-size:5.2px">2</tspan></text>
<rect x="272.3" y="434.4" width="8.7" height="8.7" fill="#b7e8c6"/><text class="lg" x="285" y="440.9">Mar − May</text><rect x="315.4" y="434.4" width="8.7" height="8.7" fill="#fdf0b3"/><text class="lg" x="328.1" y="440.9">Jun − Aug</text><rect x="357.3" y="434.4" width="8.7" height="8.7" fill="#f5d5aa"/><text class="lg" x="370" y="440.9">Sep − Nov</text><rect x="400.5" y="434.4" width="8.7" height="8.7" fill="#d5e2f8"/><text class="lg" x="413.2" y="440.9">Dec − Feb</text></svg></body></html>
